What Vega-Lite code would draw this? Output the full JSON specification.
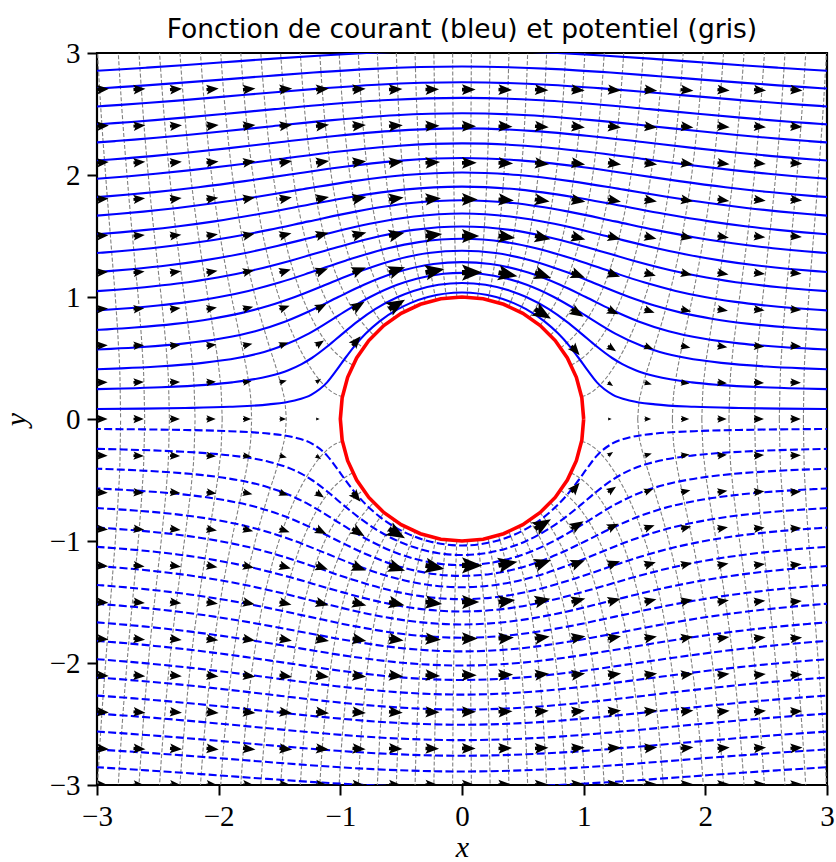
{
"$schema":"https://vega.github.io/schema/vega-lite/v6.json",
"width":730,"height":732,"autosize":"none",
"padding":{"left":97,"top":53,"right":9,"bottom":77},
"background":"white",
"title":{"text":"Fonction de courant (bleu) et potentiel (gris)","font":"DejaVu Sans, sans-serif","fontSize":26.5,"fontWeight":"normal","color":"black","anchor":"middle","frame":"group","offset":-25,"baseline":"alphabetic"},
"config":{"view":{"stroke":"black","strokeWidth":2.2},
"axis":{"domain":false,"grid":false,"tickColor":"black","tickWidth":2,"tickSize":10,"labelFont":"Liberation Serif, DejaVu Serif, serif","labelFontSize":29,"labelColor":"black","labelFlush":false,"labelOverlap":false,"labelBound":false,"titleFont":"Liberation Serif, DejaVu Serif, serif","titleFontStyle":"italic","titleFontWeight":"normal","titleFontSize":30,"titleColor":"black"}},
"encoding":{
"x":{"field":"x","type":"quantitative","scale":{"domain":[-3,3],"nice":false,"zero":false},"axis":{"values":[-3,-2,-1,0,1,2,3],"format":"d","labelPadding":7,"title":"x","titlePadding":1}},
"y":{"field":"y","type":"quantitative","scale":{"domain":[-3,3],"nice":false,"zero":false},"axis":{"values":[-3,-2,-1,0,1,2,3],"format":"d","labelPadding":7,"title":"y","titlePadding":18}}
},
"datasets":{
"ci":[{"o":0,"x":1,"y":0},{"o":1,"x":0.985,"y":0.174},{"o":2,"x":0.94,"y":0.342},{"o":3,"x":0.866,"y":0.5},{"o":4,"x":0.766,"y":0.643},{"o":5,"x":0.643,"y":0.766},{"o":6,"x":0.5,"y":0.866},{"o":7,"x":0.342,"y":0.94},{"o":8,"x":0.174,"y":0.985},{"o":9,"x":0,"y":1},{"o":10,"x":-0.174,"y":0.985},{"o":11,"x":-0.342,"y":0.94},{"o":12,"x":-0.5,"y":0.866},{"o":13,"x":-0.643,"y":0.766},{"o":14,"x":-0.766,"y":0.643},{"o":15,"x":-0.866,"y":0.5},{"o":16,"x":-0.94,"y":0.342},{"o":17,"x":-0.985,"y":0.174},{"o":18,"x":-1,"y":0},{"o":19,"x":-0.985,"y":-0.174},{"o":20,"x":-0.94,"y":-0.342},{"o":21,"x":-0.866,"y":-0.5},{"o":22,"x":-0.766,"y":-0.643},{"o":23,"x":-0.643,"y":-0.766},{"o":24,"x":-0.5,"y":-0.866},{"o":25,"x":-0.342,"y":-0.94},{"o":26,"x":-0.174,"y":-0.985},{"o":27,"x":0,"y":-1},{"o":28,"x":0.174,"y":-0.985},{"o":29,"x":0.342,"y":-0.94},{"o":30,"x":0.5,"y":-0.866},{"o":31,"x":0.643,"y":-0.766},{"o":32,"x":0.766,"y":-0.643},{"o":33,"x":0.866,"y":-0.5},{"o":34,"x":0.94,"y":-0.342},{"o":35,"x":0.985,"y":-0.174},{"o":36,"x":1,"y":0}],
"sp":[
{"c":0,"x":-3.034,"y":0.082},{"c":0,"x":-2.622,"y":0.085},{"c":0,"x":-2.276,"y":0.09},{"c":0,"x":-1.91,"y":0.1},{"c":0,"x":-1.587,"y":0.12},{"c":0,"x":-1.385,"y":0.15},{"c":0,"x":-1.237,"y":0.2},{"c":0,"x":-1.109,"y":0.3},{"c":0,"x":-1.031,"y":0.4},{"c":0,"x":-0.959,"y":0.5},{"c":0,"x":-0.882,"y":0.6},{"c":0,"x":-0.791,"y":0.7},{"c":0,"x":-0.678,"y":0.8},{"c":0,"x":-0.527,"y":0.9},{"c":0,"x":-0.425,"y":0.95},{"c":0,"x":-0.28,"y":1},{"c":0,"x":0,"y":1.037},{"c":0,"x":0.28,"y":1},{"c":0,"x":0.425,"y":0.95},{"c":0,"x":0.527,"y":0.9},{"c":0,"x":0.678,"y":0.8},{"c":0,"x":0.791,"y":0.7},{"c":0,"x":0.882,"y":0.6},{"c":0,"x":0.959,"y":0.5},{"c":0,"x":1.031,"y":0.4},{"c":0,"x":1.109,"y":0.3},{"c":0,"x":1.237,"y":0.2},{"c":0,"x":1.385,"y":0.15},{"c":0,"x":1.587,"y":0.12},{"c":0,"x":1.91,"y":0.1},{"c":0,"x":2.276,"y":0.09},{"c":0,"x":2.622,"y":0.085},{"c":0,"x":3.034,"y":0.082},
{"c":1,"x":-3,"y":0.245},{"c":1,"x":-2.782,"y":0.25},{"c":1,"x":-2.473,"y":0.26},{"c":1,"x":-2.106,"y":0.28},{"c":1,"x":-1.889,"y":0.3},{"c":1,"x":-1.59,"y":0.35},{"c":1,"x":-1.427,"y":0.4},{"c":1,"x":-1.318,"y":0.45},{"c":1,"x":-1.234,"y":0.5},{"c":1,"x":-1.1,"y":0.6},{"c":1,"x":-0.981,"y":0.7},{"c":1,"x":-0.857,"y":0.8},{"c":1,"x":-0.714,"y":0.9},{"c":1,"x":-0.528,"y":1},{"c":1,"x":-0.399,"y":1.05},{"c":1,"x":-0.193,"y":1.1},{"c":1,"x":0,"y":1.115},{"c":1,"x":0.193,"y":1.1},{"c":1,"x":0.399,"y":1.05},{"c":1,"x":0.528,"y":1},{"c":1,"x":0.714,"y":0.9},{"c":1,"x":0.857,"y":0.8},{"c":1,"x":0.981,"y":0.7},{"c":1,"x":1.1,"y":0.6},{"c":1,"x":1.234,"y":0.5},{"c":1,"x":1.318,"y":0.45},{"c":1,"x":1.427,"y":0.4},{"c":1,"x":1.59,"y":0.35},{"c":1,"x":1.889,"y":0.3},{"c":1,"x":2.106,"y":0.28},{"c":1,"x":2.473,"y":0.26},{"c":1,"x":2.782,"y":0.25},{"c":1,"x":3,"y":0.245},
{"c":2,"x":-3.023,"y":0.407},{"c":2,"x":-2.801,"y":0.415},{"c":2,"x":-2.501,"y":0.43},{"c":2,"x":-2.131,"y":0.46},{"c":2,"x":-1.846,"y":0.5},{"c":2,"x":-1.626,"y":0.55},{"c":2,"x":-1.475,"y":0.6},{"c":2,"x":-1.26,"y":0.7},{"c":2,"x":-1.092,"y":0.8},{"c":2,"x":-0.931,"y":0.9},{"c":2,"x":-0.755,"y":1},{"c":2,"x":-0.532,"y":1.1},{"c":2,"x":-0.373,"y":1.15},{"c":2,"x":-0.153,"y":1.19},{"c":2,"x":0,"y":1.198},{"c":2,"x":0.153,"y":1.19},{"c":2,"x":0.373,"y":1.15},{"c":2,"x":0.532,"y":1.1},{"c":2,"x":0.755,"y":1},{"c":2,"x":0.931,"y":0.9},{"c":2,"x":1.092,"y":0.8},{"c":2,"x":1.26,"y":0.7},{"c":2,"x":1.475,"y":0.6},{"c":2,"x":1.626,"y":0.55},{"c":2,"x":1.846,"y":0.5},{"c":2,"x":2.131,"y":0.46},{"c":2,"x":2.501,"y":0.43},{"c":2,"x":2.801,"y":0.415},{"c":2,"x":3.023,"y":0.407},
{"c":3,"x":-3.038,"y":0.568},{"c":3,"x":-2.885,"y":0.575},{"c":3,"x":-2.626,"y":0.59},{"c":3,"x":-2.276,"y":0.62},{"c":3,"x":-1.981,"y":0.66},{"c":3,"x":-1.699,"y":0.72},{"c":3,"x":-1.451,"y":0.8},{"c":3,"x":-1.22,"y":0.9},{"c":3,"x":-1.017,"y":1},{"c":3,"x":-0.806,"y":1.1},{"c":3,"x":-0.544,"y":1.2},{"c":3,"x":-0.235,"y":1.27},{"c":3,"x":0,"y":1.286},{"c":3,"x":0.235,"y":1.27},{"c":3,"x":0.544,"y":1.2},{"c":3,"x":0.806,"y":1.1},{"c":3,"x":1.017,"y":1},{"c":3,"x":1.22,"y":0.9},{"c":3,"x":1.451,"y":0.8},{"c":3,"x":1.699,"y":0.72},{"c":3,"x":1.981,"y":0.66},{"c":3,"x":2.276,"y":0.62},{"c":3,"x":2.626,"y":0.59},{"c":3,"x":2.885,"y":0.575},{"c":3,"x":3.038,"y":0.568},
{"c":4,"x":-3.009,"y":0.73},{"c":4,"x":-2.918,"y":0.735},{"c":4,"x":-2.69,"y":0.75},{"c":4,"x":-2.361,"y":0.78},{"c":4,"x":-2.065,"y":0.82},{"c":4,"x":-1.808,"y":0.87},{"c":4,"x":-1.582,"y":0.93},{"c":4,"x":-1.374,"y":1},{"c":4,"x":-1.121,"y":1.1},{"c":4,"x":-0.87,"y":1.2},{"c":4,"x":-0.567,"y":1.3},{"c":4,"x":-0.276,"y":1.36},{"c":4,"x":0,"y":1.379},{"c":4,"x":0.276,"y":1.36},{"c":4,"x":0.567,"y":1.3},{"c":4,"x":0.87,"y":1.2},{"c":4,"x":1.121,"y":1.1},{"c":4,"x":1.374,"y":1},{"c":4,"x":1.582,"y":0.93},{"c":4,"x":1.808,"y":0.87},{"c":4,"x":2.065,"y":0.82},{"c":4,"x":2.361,"y":0.78},{"c":4,"x":2.69,"y":0.75},{"c":4,"x":2.918,"y":0.735},{"c":4,"x":3.009,"y":0.73},
{"c":5,"x":-3.001,"y":0.89},{"c":5,"x":-2.922,"y":0.895},{"c":5,"x":-2.717,"y":0.91},{"c":5,"x":-2.499,"y":0.93},{"c":5,"x":-2.247,"y":0.96},{"c":5,"x":-1.995,"y":1},{"c":5,"x":-1.756,"y":1.05},{"c":5,"x":-1.495,"y":1.12},{"c":5,"x":-1.247,"y":1.2},{"c":5,"x":-0.952,"y":1.3},{"c":5,"x":-0.608,"y":1.4},{"c":5,"x":-0.354,"y":1.45},{"c":5,"x":0,"y":1.477},{"c":5,"x":0.354,"y":1.45},{"c":5,"x":0.608,"y":1.4},{"c":5,"x":0.952,"y":1.3},{"c":5,"x":1.247,"y":1.2},{"c":5,"x":1.495,"y":1.12},{"c":5,"x":1.756,"y":1.05},{"c":5,"x":1.995,"y":1},{"c":5,"x":2.247,"y":0.96},{"c":5,"x":2.499,"y":0.93},{"c":5,"x":2.717,"y":0.91},{"c":5,"x":2.922,"y":0.895},{"c":5,"x":3.001,"y":0.89},
{"c":6,"x":-3.004,"y":1.048},{"c":6,"x":-2.837,"y":1.06},{"c":6,"x":-2.608,"y":1.08},{"c":6,"x":-2.339,"y":1.11},{"c":6,"x":-2.009,"y":1.16},{"c":6,"x":-1.714,"y":1.22},{"c":6,"x":-1.402,"y":1.3},{"c":6,"x":-1.055,"y":1.4},{"c":6,"x":-0.671,"y":1.5},{"c":6,"x":-0.396,"y":1.55},{"c":6,"x":0,"y":1.578},{"c":6,"x":0.396,"y":1.55},{"c":6,"x":0.671,"y":1.5},{"c":6,"x":1.055,"y":1.4},{"c":6,"x":1.402,"y":1.3},{"c":6,"x":1.714,"y":1.22},{"c":6,"x":2.009,"y":1.16},{"c":6,"x":2.339,"y":1.11},{"c":6,"x":2.608,"y":1.08},{"c":6,"x":2.837,"y":1.06},{"c":6,"x":3.004,"y":1.048},
{"c":7,"x":-3,"y":1.205},{"c":7,"x":-2.906,"y":1.212},{"c":7,"x":-2.694,"y":1.23},{"c":7,"x":-2.411,"y":1.26},{"c":7,"x":-2.12,"y":1.3},{"c":7,"x":-1.834,"y":1.35},{"c":7,"x":-1.511,"y":1.42},{"c":7,"x":-1.186,"y":1.5},{"c":7,"x":-0.759,"y":1.6},{"c":7,"x":-0.394,"y":1.66},{"c":7,"x":0,"y":1.684},{"c":7,"x":0.394,"y":1.66},{"c":7,"x":0.759,"y":1.6},{"c":7,"x":1.186,"y":1.5},{"c":7,"x":1.511,"y":1.42},{"c":7,"x":1.834,"y":1.35},{"c":7,"x":2.12,"y":1.3},{"c":7,"x":2.411,"y":1.26},{"c":7,"x":2.694,"y":1.23},{"c":7,"x":2.906,"y":1.212},{"c":7,"x":3,"y":1.205},
{"c":8,"x":-3.006,"y":1.36},{"c":8,"x":-2.953,"y":1.364},{"c":8,"x":-2.817,"y":1.375},{"c":8,"x":-2.555,"y":1.4},{"c":8,"x":-2.225,"y":1.44},{"c":8,"x":-1.904,"y":1.49},{"c":8,"x":-1.587,"y":1.55},{"c":8,"x":-1.259,"y":1.62},{"c":8,"x":-0.875,"y":1.7},{"c":8,"x":-0.419,"y":1.77},{"c":8,"x":0,"y":1.793},{"c":8,"x":0.419,"y":1.77},{"c":8,"x":0.875,"y":1.7},{"c":8,"x":1.259,"y":1.62},{"c":8,"x":1.587,"y":1.55},{"c":8,"x":1.904,"y":1.49},{"c":8,"x":2.225,"y":1.44},{"c":8,"x":2.555,"y":1.4},{"c":8,"x":2.817,"y":1.375},{"c":8,"x":2.953,"y":1.364},{"c":8,"x":3.006,"y":1.36},
{"c":9,"x":-3.006,"y":1.514},{"c":9,"x":-2.808,"y":1.53},{"c":9,"x":-2.595,"y":1.55},{"c":9,"x":-2.328,"y":1.58},{"c":9,"x":-2.034,"y":1.62},{"c":9,"x":-1.669,"y":1.68},{"c":9,"x":-1.293,"y":1.75},{"c":9,"x":-0.91,"y":1.82},{"c":9,"x":-0.478,"y":1.88},{"c":9,"x":0,"y":1.905},{"c":9,"x":0.478,"y":1.88},{"c":9,"x":0.91,"y":1.82},{"c":9,"x":1.293,"y":1.75},{"c":9,"x":1.669,"y":1.68},{"c":9,"x":2.034,"y":1.62},{"c":9,"x":2.328,"y":1.58},{"c":9,"x":2.595,"y":1.55},{"c":9,"x":2.808,"y":1.53},{"c":9,"x":3.006,"y":1.514},
{"c":10,"x":-3.003,"y":1.667},{"c":10,"x":-2.839,"y":1.68},{"c":10,"x":-2.619,"y":1.7},{"c":10,"x":-2.339,"y":1.73},{"c":10,"x":-2.028,"y":1.77},{"c":10,"x":-1.694,"y":1.82},{"c":10,"x":-1.331,"y":1.88},{"c":10,"x":-0.89,"y":1.95},{"c":10,"x":-0.465,"y":2},{"c":10,"x":0,"y":2.021},{"c":10,"x":0.465,"y":2},{"c":10,"x":0.89,"y":1.95},{"c":10,"x":1.331,"y":1.88},{"c":10,"x":1.694,"y":1.82},{"c":10,"x":2.028,"y":1.77},{"c":10,"x":2.339,"y":1.73},{"c":10,"x":2.619,"y":1.7},{"c":10,"x":2.839,"y":1.68},{"c":10,"x":3.003,"y":1.667},
{"c":11,"x":-3.003,"y":1.819},{"c":11,"x":-2.918,"y":1.825},{"c":11,"x":-2.738,"y":1.84},{"c":11,"x":-2.526,"y":1.86},{"c":11,"x":-2.165,"y":1.9},{"c":11,"x":-1.785,"y":1.95},{"c":11,"x":-1.442,"y":2},{"c":11,"x":-0.95,"y":2.07},{"c":11,"x":-0.476,"y":2.12},{"c":11,"x":0,"y":2.139},{"c":11,"x":0.476,"y":2.12},{"c":11,"x":0.95,"y":2.07},{"c":11,"x":1.442,"y":2},{"c":11,"x":1.785,"y":1.95},{"c":11,"x":2.165,"y":1.9},{"c":11,"x":2.526,"y":1.86},{"c":11,"x":2.738,"y":1.84},{"c":11,"x":2.918,"y":1.825},{"c":11,"x":3.003,"y":1.819},
{"c":12,"x":-3.003,"y":1.969},{"c":12,"x":-2.922,"y":1.975},{"c":12,"x":-2.737,"y":1.99},{"c":12,"x":-2.517,"y":2.01},{"c":12,"x":-2.226,"y":2.04},{"c":12,"x":-1.887,"y":2.08},{"c":12,"x":-1.501,"y":2.13},{"c":12,"x":-1.031,"y":2.19},{"c":12,"x":-0.518,"y":2.24},{"c":12,"x":0,"y":2.259},{"c":12,"x":0.518,"y":2.24},{"c":12,"x":1.031,"y":2.19},{"c":12,"x":1.501,"y":2.13},{"c":12,"x":1.887,"y":2.08},{"c":12,"x":2.226,"y":2.04},{"c":12,"x":2.517,"y":2.01},{"c":12,"x":2.737,"y":1.99},{"c":12,"x":2.922,"y":1.975},{"c":12,"x":3.003,"y":1.969},
{"c":13,"x":-3.003,"y":2.119},{"c":13,"x":-2.887,"y":2.127},{"c":13,"x":-2.723,"y":2.14},{"c":13,"x":-2.549,"y":2.155},{"c":13,"x":-2.286,"y":2.18},{"c":13,"x":-1.913,"y":2.22},{"c":13,"x":-1.485,"y":2.27},{"c":13,"x":-1.044,"y":2.32},{"c":13,"x":-0.594,"y":2.36},{"c":13,"x":0,"y":2.382},{"c":13,"x":0.594,"y":2.36},{"c":13,"x":1.044,"y":2.32},{"c":13,"x":1.485,"y":2.27},{"c":13,"x":1.913,"y":2.22},{"c":13,"x":2.286,"y":2.18},{"c":13,"x":2.549,"y":2.155},{"c":13,"x":2.723,"y":2.14},{"c":13,"x":2.887,"y":2.127},{"c":13,"x":3.003,"y":2.119},
{"c":14,"x":-3.003,"y":2.267},{"c":14,"x":-2.85,"y":2.278},{"c":14,"x":-2.694,"y":2.29},{"c":14,"x":-2.514,"y":2.305},{"c":14,"x":-2.239,"y":2.33},{"c":14,"x":-1.937,"y":2.36},{"c":14,"x":-1.558,"y":2.4},{"c":14,"x":-1.066,"y":2.45},{"c":14,"x":-0.547,"y":2.49},{"c":14,"x":0,"y":2.506},{"c":14,"x":0.547,"y":2.49},{"c":14,"x":1.066,"y":2.45},{"c":14,"x":1.558,"y":2.4},{"c":14,"x":1.937,"y":2.36},{"c":14,"x":2.239,"y":2.33},{"c":14,"x":2.514,"y":2.305},{"c":14,"x":2.694,"y":2.29},{"c":14,"x":2.85,"y":2.278},{"c":14,"x":3.003,"y":2.267},
{"c":15,"x":-3,"y":2.415},{"c":15,"x":-2.855,"y":2.425},{"c":15,"x":-2.718,"y":2.435},{"c":15,"x":-2.526,"y":2.45},{"c":15,"x":-2.289,"y":2.47},{"c":15,"x":-1.959,"y":2.5},{"c":15,"x":-1.54,"y":2.54},{"c":15,"x":-1.101,"y":2.58},{"c":15,"x":-0.607,"y":2.615},{"c":15,"x":0,"y":2.632},{"c":15,"x":0.607,"y":2.615},{"c":15,"x":1.101,"y":2.58},{"c":15,"x":1.54,"y":2.54},{"c":15,"x":1.959,"y":2.5},{"c":15,"x":2.289,"y":2.47},{"c":15,"x":2.526,"y":2.45},{"c":15,"x":2.718,"y":2.435},{"c":15,"x":2.855,"y":2.425},{"c":15,"x":3,"y":2.415},
{"c":16,"x":-3.001,"y":2.562},{"c":16,"x":-2.806,"y":2.575},{"c":16,"x":-2.597,"y":2.59},{"c":16,"x":-2.338,"y":2.61},{"c":16,"x":-1.979,"y":2.64},{"c":16,"x":-1.633,"y":2.67},{"c":16,"x":-1.152,"y":2.71},{"c":16,"x":-0.701,"y":2.74},{"c":16,"x":0,"y":2.76},{"c":16,"x":0.701,"y":2.74},{"c":16,"x":1.152,"y":2.71},{"c":16,"x":1.633,"y":2.67},{"c":16,"x":1.979,"y":2.64},{"c":16,"x":2.338,"y":2.61},{"c":16,"x":2.597,"y":2.59},{"c":16,"x":2.806,"y":2.575},{"c":16,"x":3.001,"y":2.562},
{"c":17,"x":-3.009,"y":2.708},{"c":17,"x":-2.819,"y":2.72},{"c":17,"x":-2.597,"y":2.735},{"c":17,"x":-2.322,"y":2.755},{"c":17,"x":-1.997,"y":2.78},{"c":17,"x":-1.618,"y":2.81},{"c":17,"x":-1.22,"y":2.84},{"c":17,"x":-0.73,"y":2.87},{"c":17,"x":0,"y":2.889},{"c":17,"x":0.73,"y":2.87},{"c":17,"x":1.22,"y":2.84},{"c":17,"x":1.618,"y":2.81},{"c":17,"x":1.997,"y":2.78},{"c":17,"x":2.322,"y":2.755},{"c":17,"x":2.597,"y":2.735},{"c":17,"x":2.819,"y":2.72},{"c":17,"x":3.009,"y":2.708},
{"c":18,"x":-3.009,"y":2.854},{"c":18,"x":-2.825,"y":2.865},{"c":18,"x":-2.59,"y":2.88},{"c":18,"x":-2.296,"y":2.9},{"c":18,"x":-2.016,"y":2.92},{"c":18,"x":-1.6,"y":2.95},{"c":18,"x":-1.152,"y":2.98},{"c":18,"x":-0.785,"y":3},{"c":18,"x":0,"y":3.02},{"c":18,"x":0.785,"y":3},{"c":18,"x":1.152,"y":2.98},{"c":18,"x":1.6,"y":2.95},{"c":18,"x":2.016,"y":2.92},{"c":18,"x":2.296,"y":2.9},{"c":18,"x":2.59,"y":2.88},{"c":18,"x":2.825,"y":2.865},{"c":18,"x":3.009,"y":2.854}
],
"sn":[
{"c":0,"x":-3.034,"y":-0.082},{"c":0,"x":-2.622,"y":-0.085},{"c":0,"x":-2.276,"y":-0.09},{"c":0,"x":-1.91,"y":-0.1},{"c":0,"x":-1.587,"y":-0.12},{"c":0,"x":-1.385,"y":-0.15},{"c":0,"x":-1.237,"y":-0.2},{"c":0,"x":-1.109,"y":-0.3},{"c":0,"x":-1.031,"y":-0.4},{"c":0,"x":-0.959,"y":-0.5},{"c":0,"x":-0.882,"y":-0.6},{"c":0,"x":-0.791,"y":-0.7},{"c":0,"x":-0.678,"y":-0.8},{"c":0,"x":-0.527,"y":-0.9},{"c":0,"x":-0.425,"y":-0.95},{"c":0,"x":-0.28,"y":-1},{"c":0,"x":0,"y":-1.037},{"c":0,"x":0.28,"y":-1},{"c":0,"x":0.425,"y":-0.95},{"c":0,"x":0.527,"y":-0.9},{"c":0,"x":0.678,"y":-0.8},{"c":0,"x":0.791,"y":-0.7},{"c":0,"x":0.882,"y":-0.6},{"c":0,"x":0.959,"y":-0.5},{"c":0,"x":1.031,"y":-0.4},{"c":0,"x":1.109,"y":-0.3},{"c":0,"x":1.237,"y":-0.2},{"c":0,"x":1.385,"y":-0.15},{"c":0,"x":1.587,"y":-0.12},{"c":0,"x":1.91,"y":-0.1},{"c":0,"x":2.276,"y":-0.09},{"c":0,"x":2.622,"y":-0.085},{"c":0,"x":3.034,"y":-0.082},
{"c":1,"x":-3,"y":-0.245},{"c":1,"x":-2.782,"y":-0.25},{"c":1,"x":-2.473,"y":-0.26},{"c":1,"x":-2.106,"y":-0.28},{"c":1,"x":-1.889,"y":-0.3},{"c":1,"x":-1.59,"y":-0.35},{"c":1,"x":-1.427,"y":-0.4},{"c":1,"x":-1.318,"y":-0.45},{"c":1,"x":-1.234,"y":-0.5},{"c":1,"x":-1.1,"y":-0.6},{"c":1,"x":-0.981,"y":-0.7},{"c":1,"x":-0.857,"y":-0.8},{"c":1,"x":-0.714,"y":-0.9},{"c":1,"x":-0.528,"y":-1},{"c":1,"x":-0.399,"y":-1.05},{"c":1,"x":-0.193,"y":-1.1},{"c":1,"x":0,"y":-1.115},{"c":1,"x":0.193,"y":-1.1},{"c":1,"x":0.399,"y":-1.05},{"c":1,"x":0.528,"y":-1},{"c":1,"x":0.714,"y":-0.9},{"c":1,"x":0.857,"y":-0.8},{"c":1,"x":0.981,"y":-0.7},{"c":1,"x":1.1,"y":-0.6},{"c":1,"x":1.234,"y":-0.5},{"c":1,"x":1.318,"y":-0.45},{"c":1,"x":1.427,"y":-0.4},{"c":1,"x":1.59,"y":-0.35},{"c":1,"x":1.889,"y":-0.3},{"c":1,"x":2.106,"y":-0.28},{"c":1,"x":2.473,"y":-0.26},{"c":1,"x":2.782,"y":-0.25},{"c":1,"x":3,"y":-0.245},
{"c":2,"x":-3.023,"y":-0.407},{"c":2,"x":-2.801,"y":-0.415},{"c":2,"x":-2.501,"y":-0.43},{"c":2,"x":-2.131,"y":-0.46},{"c":2,"x":-1.846,"y":-0.5},{"c":2,"x":-1.626,"y":-0.55},{"c":2,"x":-1.475,"y":-0.6},{"c":2,"x":-1.26,"y":-0.7},{"c":2,"x":-1.092,"y":-0.8},{"c":2,"x":-0.931,"y":-0.9},{"c":2,"x":-0.755,"y":-1},{"c":2,"x":-0.532,"y":-1.1},{"c":2,"x":-0.373,"y":-1.15},{"c":2,"x":-0.153,"y":-1.19},{"c":2,"x":0,"y":-1.198},{"c":2,"x":0.153,"y":-1.19},{"c":2,"x":0.373,"y":-1.15},{"c":2,"x":0.532,"y":-1.1},{"c":2,"x":0.755,"y":-1},{"c":2,"x":0.931,"y":-0.9},{"c":2,"x":1.092,"y":-0.8},{"c":2,"x":1.26,"y":-0.7},{"c":2,"x":1.475,"y":-0.6},{"c":2,"x":1.626,"y":-0.55},{"c":2,"x":1.846,"y":-0.5},{"c":2,"x":2.131,"y":-0.46},{"c":2,"x":2.501,"y":-0.43},{"c":2,"x":2.801,"y":-0.415},{"c":2,"x":3.023,"y":-0.407},
{"c":3,"x":-3.038,"y":-0.568},{"c":3,"x":-2.885,"y":-0.575},{"c":3,"x":-2.626,"y":-0.59},{"c":3,"x":-2.276,"y":-0.62},{"c":3,"x":-1.981,"y":-0.66},{"c":3,"x":-1.699,"y":-0.72},{"c":3,"x":-1.451,"y":-0.8},{"c":3,"x":-1.22,"y":-0.9},{"c":3,"x":-1.017,"y":-1},{"c":3,"x":-0.806,"y":-1.1},{"c":3,"x":-0.544,"y":-1.2},{"c":3,"x":-0.235,"y":-1.27},{"c":3,"x":0,"y":-1.286},{"c":3,"x":0.235,"y":-1.27},{"c":3,"x":0.544,"y":-1.2},{"c":3,"x":0.806,"y":-1.1},{"c":3,"x":1.017,"y":-1},{"c":3,"x":1.22,"y":-0.9},{"c":3,"x":1.451,"y":-0.8},{"c":3,"x":1.699,"y":-0.72},{"c":3,"x":1.981,"y":-0.66},{"c":3,"x":2.276,"y":-0.62},{"c":3,"x":2.626,"y":-0.59},{"c":3,"x":2.885,"y":-0.575},{"c":3,"x":3.038,"y":-0.568},
{"c":4,"x":-3.009,"y":-0.73},{"c":4,"x":-2.918,"y":-0.735},{"c":4,"x":-2.69,"y":-0.75},{"c":4,"x":-2.361,"y":-0.78},{"c":4,"x":-2.065,"y":-0.82},{"c":4,"x":-1.808,"y":-0.87},{"c":4,"x":-1.582,"y":-0.93},{"c":4,"x":-1.374,"y":-1},{"c":4,"x":-1.121,"y":-1.1},{"c":4,"x":-0.87,"y":-1.2},{"c":4,"x":-0.567,"y":-1.3},{"c":4,"x":-0.276,"y":-1.36},{"c":4,"x":0,"y":-1.379},{"c":4,"x":0.276,"y":-1.36},{"c":4,"x":0.567,"y":-1.3},{"c":4,"x":0.87,"y":-1.2},{"c":4,"x":1.121,"y":-1.1},{"c":4,"x":1.374,"y":-1},{"c":4,"x":1.582,"y":-0.93},{"c":4,"x":1.808,"y":-0.87},{"c":4,"x":2.065,"y":-0.82},{"c":4,"x":2.361,"y":-0.78},{"c":4,"x":2.69,"y":-0.75},{"c":4,"x":2.918,"y":-0.735},{"c":4,"x":3.009,"y":-0.73},
{"c":5,"x":-3.001,"y":-0.89},{"c":5,"x":-2.922,"y":-0.895},{"c":5,"x":-2.717,"y":-0.91},{"c":5,"x":-2.499,"y":-0.93},{"c":5,"x":-2.247,"y":-0.96},{"c":5,"x":-1.995,"y":-1},{"c":5,"x":-1.756,"y":-1.05},{"c":5,"x":-1.495,"y":-1.12},{"c":5,"x":-1.247,"y":-1.2},{"c":5,"x":-0.952,"y":-1.3},{"c":5,"x":-0.608,"y":-1.4},{"c":5,"x":-0.354,"y":-1.45},{"c":5,"x":0,"y":-1.477},{"c":5,"x":0.354,"y":-1.45},{"c":5,"x":0.608,"y":-1.4},{"c":5,"x":0.952,"y":-1.3},{"c":5,"x":1.247,"y":-1.2},{"c":5,"x":1.495,"y":-1.12},{"c":5,"x":1.756,"y":-1.05},{"c":5,"x":1.995,"y":-1},{"c":5,"x":2.247,"y":-0.96},{"c":5,"x":2.499,"y":-0.93},{"c":5,"x":2.717,"y":-0.91},{"c":5,"x":2.922,"y":-0.895},{"c":5,"x":3.001,"y":-0.89},
{"c":6,"x":-3.004,"y":-1.048},{"c":6,"x":-2.837,"y":-1.06},{"c":6,"x":-2.608,"y":-1.08},{"c":6,"x":-2.339,"y":-1.11},{"c":6,"x":-2.009,"y":-1.16},{"c":6,"x":-1.714,"y":-1.22},{"c":6,"x":-1.402,"y":-1.3},{"c":6,"x":-1.055,"y":-1.4},{"c":6,"x":-0.671,"y":-1.5},{"c":6,"x":-0.396,"y":-1.55},{"c":6,"x":0,"y":-1.578},{"c":6,"x":0.396,"y":-1.55},{"c":6,"x":0.671,"y":-1.5},{"c":6,"x":1.055,"y":-1.4},{"c":6,"x":1.402,"y":-1.3},{"c":6,"x":1.714,"y":-1.22},{"c":6,"x":2.009,"y":-1.16},{"c":6,"x":2.339,"y":-1.11},{"c":6,"x":2.608,"y":-1.08},{"c":6,"x":2.837,"y":-1.06},{"c":6,"x":3.004,"y":-1.048},
{"c":7,"x":-3,"y":-1.205},{"c":7,"x":-2.906,"y":-1.212},{"c":7,"x":-2.694,"y":-1.23},{"c":7,"x":-2.411,"y":-1.26},{"c":7,"x":-2.12,"y":-1.3},{"c":7,"x":-1.834,"y":-1.35},{"c":7,"x":-1.511,"y":-1.42},{"c":7,"x":-1.186,"y":-1.5},{"c":7,"x":-0.759,"y":-1.6},{"c":7,"x":-0.394,"y":-1.66},{"c":7,"x":0,"y":-1.684},{"c":7,"x":0.394,"y":-1.66},{"c":7,"x":0.759,"y":-1.6},{"c":7,"x":1.186,"y":-1.5},{"c":7,"x":1.511,"y":-1.42},{"c":7,"x":1.834,"y":-1.35},{"c":7,"x":2.12,"y":-1.3},{"c":7,"x":2.411,"y":-1.26},{"c":7,"x":2.694,"y":-1.23},{"c":7,"x":2.906,"y":-1.212},{"c":7,"x":3,"y":-1.205},
{"c":8,"x":-3.006,"y":-1.36},{"c":8,"x":-2.953,"y":-1.364},{"c":8,"x":-2.817,"y":-1.375},{"c":8,"x":-2.555,"y":-1.4},{"c":8,"x":-2.225,"y":-1.44},{"c":8,"x":-1.904,"y":-1.49},{"c":8,"x":-1.587,"y":-1.55},{"c":8,"x":-1.259,"y":-1.62},{"c":8,"x":-0.875,"y":-1.7},{"c":8,"x":-0.419,"y":-1.77},{"c":8,"x":0,"y":-1.793},{"c":8,"x":0.419,"y":-1.77},{"c":8,"x":0.875,"y":-1.7},{"c":8,"x":1.259,"y":-1.62},{"c":8,"x":1.587,"y":-1.55},{"c":8,"x":1.904,"y":-1.49},{"c":8,"x":2.225,"y":-1.44},{"c":8,"x":2.555,"y":-1.4},{"c":8,"x":2.817,"y":-1.375},{"c":8,"x":2.953,"y":-1.364},{"c":8,"x":3.006,"y":-1.36},
{"c":9,"x":-3.006,"y":-1.514},{"c":9,"x":-2.808,"y":-1.53},{"c":9,"x":-2.595,"y":-1.55},{"c":9,"x":-2.328,"y":-1.58},{"c":9,"x":-2.034,"y":-1.62},{"c":9,"x":-1.669,"y":-1.68},{"c":9,"x":-1.293,"y":-1.75},{"c":9,"x":-0.91,"y":-1.82},{"c":9,"x":-0.478,"y":-1.88},{"c":9,"x":0,"y":-1.905},{"c":9,"x":0.478,"y":-1.88},{"c":9,"x":0.91,"y":-1.82},{"c":9,"x":1.293,"y":-1.75},{"c":9,"x":1.669,"y":-1.68},{"c":9,"x":2.034,"y":-1.62},{"c":9,"x":2.328,"y":-1.58},{"c":9,"x":2.595,"y":-1.55},{"c":9,"x":2.808,"y":-1.53},{"c":9,"x":3.006,"y":-1.514},
{"c":10,"x":-3.003,"y":-1.667},{"c":10,"x":-2.839,"y":-1.68},{"c":10,"x":-2.619,"y":-1.7},{"c":10,"x":-2.339,"y":-1.73},{"c":10,"x":-2.028,"y":-1.77},{"c":10,"x":-1.694,"y":-1.82},{"c":10,"x":-1.331,"y":-1.88},{"c":10,"x":-0.89,"y":-1.95},{"c":10,"x":-0.465,"y":-2},{"c":10,"x":0,"y":-2.021},{"c":10,"x":0.465,"y":-2},{"c":10,"x":0.89,"y":-1.95},{"c":10,"x":1.331,"y":-1.88},{"c":10,"x":1.694,"y":-1.82},{"c":10,"x":2.028,"y":-1.77},{"c":10,"x":2.339,"y":-1.73},{"c":10,"x":2.619,"y":-1.7},{"c":10,"x":2.839,"y":-1.68},{"c":10,"x":3.003,"y":-1.667},
{"c":11,"x":-3.003,"y":-1.819},{"c":11,"x":-2.918,"y":-1.825},{"c":11,"x":-2.738,"y":-1.84},{"c":11,"x":-2.526,"y":-1.86},{"c":11,"x":-2.165,"y":-1.9},{"c":11,"x":-1.785,"y":-1.95},{"c":11,"x":-1.442,"y":-2},{"c":11,"x":-0.95,"y":-2.07},{"c":11,"x":-0.476,"y":-2.12},{"c":11,"x":0,"y":-2.139},{"c":11,"x":0.476,"y":-2.12},{"c":11,"x":0.95,"y":-2.07},{"c":11,"x":1.442,"y":-2},{"c":11,"x":1.785,"y":-1.95},{"c":11,"x":2.165,"y":-1.9},{"c":11,"x":2.526,"y":-1.86},{"c":11,"x":2.738,"y":-1.84},{"c":11,"x":2.918,"y":-1.825},{"c":11,"x":3.003,"y":-1.819},
{"c":12,"x":-3.003,"y":-1.969},{"c":12,"x":-2.922,"y":-1.975},{"c":12,"x":-2.737,"y":-1.99},{"c":12,"x":-2.517,"y":-2.01},{"c":12,"x":-2.226,"y":-2.04},{"c":12,"x":-1.887,"y":-2.08},{"c":12,"x":-1.501,"y":-2.13},{"c":12,"x":-1.031,"y":-2.19},{"c":12,"x":-0.518,"y":-2.24},{"c":12,"x":0,"y":-2.259},{"c":12,"x":0.518,"y":-2.24},{"c":12,"x":1.031,"y":-2.19},{"c":12,"x":1.501,"y":-2.13},{"c":12,"x":1.887,"y":-2.08},{"c":12,"x":2.226,"y":-2.04},{"c":12,"x":2.517,"y":-2.01},{"c":12,"x":2.737,"y":-1.99},{"c":12,"x":2.922,"y":-1.975},{"c":12,"x":3.003,"y":-1.969},
{"c":13,"x":-3.003,"y":-2.119},{"c":13,"x":-2.887,"y":-2.127},{"c":13,"x":-2.723,"y":-2.14},{"c":13,"x":-2.549,"y":-2.155},{"c":13,"x":-2.286,"y":-2.18},{"c":13,"x":-1.913,"y":-2.22},{"c":13,"x":-1.485,"y":-2.27},{"c":13,"x":-1.044,"y":-2.32},{"c":13,"x":-0.594,"y":-2.36},{"c":13,"x":0,"y":-2.382},{"c":13,"x":0.594,"y":-2.36},{"c":13,"x":1.044,"y":-2.32},{"c":13,"x":1.485,"y":-2.27},{"c":13,"x":1.913,"y":-2.22},{"c":13,"x":2.286,"y":-2.18},{"c":13,"x":2.549,"y":-2.155},{"c":13,"x":2.723,"y":-2.14},{"c":13,"x":2.887,"y":-2.127},{"c":13,"x":3.003,"y":-2.119},
{"c":14,"x":-3.003,"y":-2.267},{"c":14,"x":-2.85,"y":-2.278},{"c":14,"x":-2.694,"y":-2.29},{"c":14,"x":-2.514,"y":-2.305},{"c":14,"x":-2.239,"y":-2.33},{"c":14,"x":-1.937,"y":-2.36},{"c":14,"x":-1.558,"y":-2.4},{"c":14,"x":-1.066,"y":-2.45},{"c":14,"x":-0.547,"y":-2.49},{"c":14,"x":0,"y":-2.506},{"c":14,"x":0.547,"y":-2.49},{"c":14,"x":1.066,"y":-2.45},{"c":14,"x":1.558,"y":-2.4},{"c":14,"x":1.937,"y":-2.36},{"c":14,"x":2.239,"y":-2.33},{"c":14,"x":2.514,"y":-2.305},{"c":14,"x":2.694,"y":-2.29},{"c":14,"x":2.85,"y":-2.278},{"c":14,"x":3.003,"y":-2.267},
{"c":15,"x":-3,"y":-2.415},{"c":15,"x":-2.855,"y":-2.425},{"c":15,"x":-2.718,"y":-2.435},{"c":15,"x":-2.526,"y":-2.45},{"c":15,"x":-2.289,"y":-2.47},{"c":15,"x":-1.959,"y":-2.5},{"c":15,"x":-1.54,"y":-2.54},{"c":15,"x":-1.101,"y":-2.58},{"c":15,"x":-0.607,"y":-2.615},{"c":15,"x":0,"y":-2.632},{"c":15,"x":0.607,"y":-2.615},{"c":15,"x":1.101,"y":-2.58},{"c":15,"x":1.54,"y":-2.54},{"c":15,"x":1.959,"y":-2.5},{"c":15,"x":2.289,"y":-2.47},{"c":15,"x":2.526,"y":-2.45},{"c":15,"x":2.718,"y":-2.435},{"c":15,"x":2.855,"y":-2.425},{"c":15,"x":3,"y":-2.415},
{"c":16,"x":-3.001,"y":-2.562},{"c":16,"x":-2.806,"y":-2.575},{"c":16,"x":-2.597,"y":-2.59},{"c":16,"x":-2.338,"y":-2.61},{"c":16,"x":-1.979,"y":-2.64},{"c":16,"x":-1.633,"y":-2.67},{"c":16,"x":-1.152,"y":-2.71},{"c":16,"x":-0.701,"y":-2.74},{"c":16,"x":0,"y":-2.76},{"c":16,"x":0.701,"y":-2.74},{"c":16,"x":1.152,"y":-2.71},{"c":16,"x":1.633,"y":-2.67},{"c":16,"x":1.979,"y":-2.64},{"c":16,"x":2.338,"y":-2.61},{"c":16,"x":2.597,"y":-2.59},{"c":16,"x":2.806,"y":-2.575},{"c":16,"x":3.001,"y":-2.562},
{"c":17,"x":-3.009,"y":-2.708},{"c":17,"x":-2.819,"y":-2.72},{"c":17,"x":-2.597,"y":-2.735},{"c":17,"x":-2.322,"y":-2.755},{"c":17,"x":-1.997,"y":-2.78},{"c":17,"x":-1.618,"y":-2.81},{"c":17,"x":-1.22,"y":-2.84},{"c":17,"x":-0.73,"y":-2.87},{"c":17,"x":0,"y":-2.889},{"c":17,"x":0.73,"y":-2.87},{"c":17,"x":1.22,"y":-2.84},{"c":17,"x":1.618,"y":-2.81},{"c":17,"x":1.997,"y":-2.78},{"c":17,"x":2.322,"y":-2.755},{"c":17,"x":2.597,"y":-2.735},{"c":17,"x":2.819,"y":-2.72},{"c":17,"x":3.009,"y":-2.708},
{"c":18,"x":-3.009,"y":-2.854},{"c":18,"x":-2.825,"y":-2.865},{"c":18,"x":-2.59,"y":-2.88},{"c":18,"x":-2.296,"y":-2.9},{"c":18,"x":-2.016,"y":-2.92},{"c":18,"x":-1.6,"y":-2.95},{"c":18,"x":-1.152,"y":-2.98},{"c":18,"x":-0.785,"y":-3},{"c":18,"x":0,"y":-3.02},{"c":18,"x":0.785,"y":-3},{"c":18,"x":1.152,"y":-2.98},{"c":18,"x":1.6,"y":-2.95},{"c":18,"x":2.016,"y":-2.92},{"c":18,"x":2.296,"y":-2.9},{"c":18,"x":2.59,"y":-2.88},{"c":18,"x":2.825,"y":-2.865},{"c":18,"x":3.009,"y":-2.854}
],
"eq":[
{"c":4,"x":0.043,"y":0.999},{"c":4,"x":0.047,"y":1.105},{"c":4,"x":0.051,"y":1.224},{"c":4,"x":0.06,"y":1.526},{"c":4,"x":0.068,"y":1.999},{"c":4,"x":0.073,"y":2.379},{"c":4,"x":0.077,"y":2.999},{"c":4,"x":0.079,"y":3.39},
{"c":5,"x":0.043,"y":-0.999},{"c":5,"x":0.047,"y":-1.105},{"c":5,"x":0.051,"y":-1.224},{"c":5,"x":0.06,"y":-1.526},{"c":5,"x":0.068,"y":-1.999},{"c":5,"x":0.073,"y":-2.379},{"c":5,"x":0.077,"y":-2.999},{"c":5,"x":0.079,"y":-3.39},
{"c":6,"x":-0.043,"y":0.999},{"c":6,"x":-0.047,"y":1.105},{"c":6,"x":-0.051,"y":1.224},{"c":6,"x":-0.06,"y":1.526},{"c":6,"x":-0.068,"y":1.999},{"c":6,"x":-0.073,"y":2.379},{"c":6,"x":-0.077,"y":2.999},{"c":6,"x":-0.079,"y":3.39},
{"c":7,"x":-0.043,"y":-0.999},{"c":7,"x":-0.047,"y":-1.105},{"c":7,"x":-0.051,"y":-1.224},{"c":7,"x":-0.06,"y":-1.526},{"c":7,"x":-0.068,"y":-1.999},{"c":7,"x":-0.073,"y":-2.379},{"c":7,"x":-0.077,"y":-2.999},{"c":7,"x":-0.079,"y":-3.39},
{"c":8,"x":0.128,"y":0.992},{"c":8,"x":0.141,"y":1.097},{"c":8,"x":0.154,"y":1.215},{"c":8,"x":0.18,"y":1.517},{"c":8,"x":0.205,"y":1.99},{"c":8,"x":0.218,"y":2.371},{"c":8,"x":0.231,"y":2.991},{"c":8,"x":0.236,"y":3.383},
{"c":9,"x":0.128,"y":-0.992},{"c":9,"x":0.141,"y":-1.097},{"c":9,"x":0.154,"y":-1.215},{"c":9,"x":0.18,"y":-1.517},{"c":9,"x":0.205,"y":-1.99},{"c":9,"x":0.218,"y":-2.371},{"c":9,"x":0.231,"y":-2.991},{"c":9,"x":0.236,"y":-3.383},
{"c":10,"x":-0.128,"y":0.992},{"c":10,"x":-0.141,"y":1.097},{"c":10,"x":-0.154,"y":1.215},{"c":10,"x":-0.18,"y":1.517},{"c":10,"x":-0.205,"y":1.99},{"c":10,"x":-0.218,"y":2.371},{"c":10,"x":-0.231,"y":2.991},{"c":10,"x":-0.236,"y":3.383},
{"c":11,"x":-0.128,"y":-0.992},{"c":11,"x":-0.141,"y":-1.097},{"c":11,"x":-0.154,"y":-1.215},{"c":11,"x":-0.18,"y":-1.517},{"c":11,"x":-0.205,"y":-1.99},{"c":11,"x":-0.218,"y":-2.371},{"c":11,"x":-0.231,"y":-2.991},{"c":11,"x":-0.236,"y":-3.383},
{"c":12,"x":0.214,"y":0.977},{"c":12,"x":0.235,"y":1.08},{"c":12,"x":0.256,"y":1.198},{"c":12,"x":0.299,"y":1.498},{"c":12,"x":0.342,"y":1.971},{"c":12,"x":0.363,"y":2.353},{"c":12,"x":0.385,"y":2.975},{"c":12,"x":0.393,"y":3.368},
{"c":13,"x":0.214,"y":-0.977},{"c":13,"x":0.235,"y":-1.08},{"c":13,"x":0.256,"y":-1.198},{"c":13,"x":0.299,"y":-1.498},{"c":13,"x":0.342,"y":-1.971},{"c":13,"x":0.363,"y":-2.353},{"c":13,"x":0.385,"y":-2.975},{"c":13,"x":0.393,"y":-3.368},
{"c":14,"x":-0.214,"y":0.977},{"c":14,"x":-0.235,"y":1.08},{"c":14,"x":-0.256,"y":1.198},{"c":14,"x":-0.299,"y":1.498},{"c":14,"x":-0.342,"y":1.971},{"c":14,"x":-0.363,"y":2.353},{"c":14,"x":-0.385,"y":2.975},{"c":14,"x":-0.393,"y":3.368},
{"c":15,"x":-0.214,"y":-0.977},{"c":15,"x":-0.235,"y":-1.08},{"c":15,"x":-0.256,"y":-1.198},{"c":15,"x":-0.299,"y":-1.498},{"c":15,"x":-0.342,"y":-1.971},{"c":15,"x":-0.363,"y":-2.353},{"c":15,"x":-0.385,"y":-2.975},{"c":15,"x":-0.393,"y":-3.368},
{"c":16,"x":0.299,"y":0.954},{"c":16,"x":0.329,"y":1.055},{"c":16,"x":0.359,"y":1.171},{"c":16,"x":0.389,"y":1.306},{"c":16,"x":0.419,"y":1.469},{"c":16,"x":0.479,"y":1.942},{"c":16,"x":0.509,"y":2.326},{"c":16,"x":0.538,"y":2.951},{"c":16,"x":0.55,"y":3.346},
{"c":17,"x":0.299,"y":-0.954},{"c":17,"x":0.329,"y":-1.055},{"c":17,"x":0.359,"y":-1.171},{"c":17,"x":0.389,"y":-1.306},{"c":17,"x":0.419,"y":-1.469},{"c":17,"x":0.479,"y":-1.942},{"c":17,"x":0.509,"y":-2.326},{"c":17,"x":0.538,"y":-2.951},{"c":17,"x":0.55,"y":-3.346},
{"c":18,"x":-0.299,"y":0.954},{"c":18,"x":-0.329,"y":1.055},{"c":18,"x":-0.359,"y":1.171},{"c":18,"x":-0.389,"y":1.306},{"c":18,"x":-0.419,"y":1.469},{"c":18,"x":-0.479,"y":1.942},{"c":18,"x":-0.509,"y":2.326},{"c":18,"x":-0.538,"y":2.951},{"c":18,"x":-0.55,"y":3.346},
{"c":19,"x":-0.299,"y":-0.954},{"c":19,"x":-0.329,"y":-1.055},{"c":19,"x":-0.359,"y":-1.171},{"c":19,"x":-0.389,"y":-1.306},{"c":19,"x":-0.419,"y":-1.469},{"c":19,"x":-0.479,"y":-1.942},{"c":19,"x":-0.509,"y":-2.326},{"c":19,"x":-0.538,"y":-2.951},{"c":19,"x":-0.55,"y":-3.346},
{"c":20,"x":0.385,"y":0.923},{"c":20,"x":0.423,"y":1.021},{"c":20,"x":0.462,"y":1.135},{"c":20,"x":0.5,"y":1.268},{"c":20,"x":0.538,"y":1.43},{"c":20,"x":0.577,"y":1.633},{"c":20,"x":0.615,"y":1.903},{"c":20,"x":0.654,"y":2.289},{"c":20,"x":0.692,"y":2.919},{"c":20,"x":0.708,"y":3.317},
{"c":21,"x":0.385,"y":-0.923},{"c":21,"x":0.423,"y":-1.021},{"c":21,"x":0.462,"y":-1.135},{"c":21,"x":0.5,"y":-1.268},{"c":21,"x":0.538,"y":-1.43},{"c":21,"x":0.577,"y":-1.633},{"c":21,"x":0.615,"y":-1.903},{"c":21,"x":0.654,"y":-2.289},{"c":21,"x":0.692,"y":-2.919},{"c":21,"x":0.708,"y":-3.317},
{"c":22,"x":-0.385,"y":0.923},{"c":22,"x":-0.423,"y":1.021},{"c":22,"x":-0.462,"y":1.135},{"c":22,"x":-0.5,"y":1.268},{"c":22,"x":-0.538,"y":1.43},{"c":22,"x":-0.577,"y":1.633},{"c":22,"x":-0.615,"y":1.903},{"c":22,"x":-0.654,"y":2.289},{"c":22,"x":-0.692,"y":2.919},{"c":22,"x":-0.708,"y":3.317},
{"c":23,"x":-0.385,"y":-0.923},{"c":23,"x":-0.423,"y":-1.021},{"c":23,"x":-0.462,"y":-1.135},{"c":23,"x":-0.5,"y":-1.268},{"c":23,"x":-0.538,"y":-1.43},{"c":23,"x":-0.577,"y":-1.633},{"c":23,"x":-0.615,"y":-1.903},{"c":23,"x":-0.654,"y":-2.289},{"c":23,"x":-0.692,"y":-2.919},{"c":23,"x":-0.708,"y":-3.317},
{"c":24,"x":0.47,"y":0.883},{"c":24,"x":0.517,"y":0.977},{"c":24,"x":0.564,"y":1.087},{"c":24,"x":0.611,"y":1.218},{"c":24,"x":0.658,"y":1.379},{"c":24,"x":0.705,"y":1.582},{"c":24,"x":0.752,"y":1.853},{"c":24,"x":0.799,"y":2.242},{"c":24,"x":0.846,"y":2.878},{"c":24,"x":0.865,"y":3.279},
{"c":25,"x":0.47,"y":-0.883},{"c":25,"x":0.517,"y":-0.977},{"c":25,"x":0.564,"y":-1.087},{"c":25,"x":0.611,"y":-1.218},{"c":25,"x":0.658,"y":-1.379},{"c":25,"x":0.705,"y":-1.582},{"c":25,"x":0.752,"y":-1.853},{"c":25,"x":0.799,"y":-2.242},{"c":25,"x":0.846,"y":-2.878},{"c":25,"x":0.865,"y":-3.279},
{"c":26,"x":-0.47,"y":0.883},{"c":26,"x":-0.517,"y":0.977},{"c":26,"x":-0.564,"y":1.087},{"c":26,"x":-0.611,"y":1.218},{"c":26,"x":-0.658,"y":1.379},{"c":26,"x":-0.705,"y":1.582},{"c":26,"x":-0.752,"y":1.853},{"c":26,"x":-0.799,"y":2.242},{"c":26,"x":-0.846,"y":2.878},{"c":26,"x":-0.865,"y":3.279},
{"c":27,"x":-0.47,"y":-0.883},{"c":27,"x":-0.517,"y":-0.977},{"c":27,"x":-0.564,"y":-1.087},{"c":27,"x":-0.611,"y":-1.218},{"c":27,"x":-0.658,"y":-1.379},{"c":27,"x":-0.705,"y":-1.582},{"c":27,"x":-0.752,"y":-1.853},{"c":27,"x":-0.799,"y":-2.242},{"c":27,"x":-0.846,"y":-2.878},{"c":27,"x":-0.865,"y":-3.279},
{"c":28,"x":0.556,"y":0.832},{"c":28,"x":0.611,"y":0.921},{"c":28,"x":0.667,"y":1.027},{"c":28,"x":0.722,"y":1.156},{"c":28,"x":0.778,"y":1.315},{"c":28,"x":0.833,"y":1.518},{"c":28,"x":0.889,"y":1.792},{"c":28,"x":0.944,"y":2.185},{"c":28,"x":1,"y":2.828},{"c":28,"x":1.022,"y":3.233},
{"c":29,"x":0.556,"y":-0.832},{"c":29,"x":0.611,"y":-0.921},{"c":29,"x":0.667,"y":-1.027},{"c":29,"x":0.722,"y":-1.156},{"c":29,"x":0.778,"y":-1.315},{"c":29,"x":0.833,"y":-1.518},{"c":29,"x":0.889,"y":-1.792},{"c":29,"x":0.944,"y":-2.185},{"c":29,"x":1,"y":-2.828},{"c":29,"x":1.022,"y":-3.233},
{"c":30,"x":-0.556,"y":0.832},{"c":30,"x":-0.611,"y":0.921},{"c":30,"x":-0.667,"y":1.027},{"c":30,"x":-0.722,"y":1.156},{"c":30,"x":-0.778,"y":1.315},{"c":30,"x":-0.833,"y":1.518},{"c":30,"x":-0.889,"y":1.792},{"c":30,"x":-0.944,"y":2.185},{"c":30,"x":-1,"y":2.828},{"c":30,"x":-1.022,"y":3.233},
{"c":31,"x":-0.556,"y":-0.832},{"c":31,"x":-0.611,"y":-0.921},{"c":31,"x":-0.667,"y":-1.027},{"c":31,"x":-0.722,"y":-1.156},{"c":31,"x":-0.778,"y":-1.315},{"c":31,"x":-0.833,"y":-1.518},{"c":31,"x":-0.889,"y":-1.792},{"c":31,"x":-0.944,"y":-2.185},{"c":31,"x":-1,"y":-2.828},{"c":31,"x":-1.022,"y":-3.233},
{"c":32,"x":0.641,"y":0.768},{"c":32,"x":0.705,"y":0.852},{"c":32,"x":0.769,"y":0.953},{"c":32,"x":0.833,"y":1.078},{"c":32,"x":0.897,"y":1.236},{"c":32,"x":0.962,"y":1.441},{"c":32,"x":1.026,"y":1.717},{"c":32,"x":1.09,"y":2.116},{"c":32,"x":1.154,"y":2.769},{"c":32,"x":1.18,"y":3.18},
{"c":33,"x":0.641,"y":-0.768},{"c":33,"x":0.705,"y":-0.852},{"c":33,"x":0.769,"y":-0.953},{"c":33,"x":0.833,"y":-1.078},{"c":33,"x":0.897,"y":-1.236},{"c":33,"x":0.962,"y":-1.441},{"c":33,"x":1.026,"y":-1.717},{"c":33,"x":1.09,"y":-2.116},{"c":33,"x":1.154,"y":-2.769},{"c":33,"x":1.18,"y":-3.18},
{"c":34,"x":-0.641,"y":0.768},{"c":34,"x":-0.705,"y":0.852},{"c":34,"x":-0.769,"y":0.953},{"c":34,"x":-0.833,"y":1.078},{"c":34,"x":-0.897,"y":1.236},{"c":34,"x":-0.962,"y":1.441},{"c":34,"x":-1.026,"y":1.717},{"c":34,"x":-1.09,"y":2.116},{"c":34,"x":-1.154,"y":2.769},{"c":34,"x":-1.18,"y":3.18},
{"c":35,"x":-0.641,"y":-0.768},{"c":35,"x":-0.705,"y":-0.852},{"c":35,"x":-0.769,"y":-0.953},{"c":35,"x":-0.833,"y":-1.078},{"c":35,"x":-0.897,"y":-1.236},{"c":35,"x":-0.962,"y":-1.441},{"c":35,"x":-1.026,"y":-1.717},{"c":35,"x":-1.09,"y":-2.116},{"c":35,"x":-1.154,"y":-2.769},{"c":35,"x":-1.18,"y":-3.18},
{"c":36,"x":0.727,"y":0.687},{"c":36,"x":0.799,"y":0.764},{"c":36,"x":0.872,"y":0.86},{"c":36,"x":0.944,"y":0.982},{"c":36,"x":1.017,"y":1.14},{"c":36,"x":1.09,"y":1.346},{"c":36,"x":1.162,"y":1.628},{"c":36,"x":1.235,"y":2.035},{"c":36,"x":1.308,"y":2.7},{"c":36,"x":1.337,"y":3.117},
{"c":37,"x":0.727,"y":-0.687},{"c":37,"x":0.799,"y":-0.764},{"c":37,"x":0.872,"y":-0.86},{"c":37,"x":0.944,"y":-0.982},{"c":37,"x":1.017,"y":-1.14},{"c":37,"x":1.09,"y":-1.346},{"c":37,"x":1.162,"y":-1.628},{"c":37,"x":1.235,"y":-2.035},{"c":37,"x":1.308,"y":-2.7},{"c":37,"x":1.337,"y":-3.117},
{"c":38,"x":-0.727,"y":0.687},{"c":38,"x":-0.799,"y":0.764},{"c":38,"x":-0.872,"y":0.86},{"c":38,"x":-0.944,"y":0.982},{"c":38,"x":-1.017,"y":1.14},{"c":38,"x":-1.09,"y":1.346},{"c":38,"x":-1.162,"y":1.628},{"c":38,"x":-1.235,"y":2.035},{"c":38,"x":-1.308,"y":2.7},{"c":38,"x":-1.337,"y":3.117},
{"c":39,"x":-0.727,"y":-0.687},{"c":39,"x":-0.799,"y":-0.764},{"c":39,"x":-0.872,"y":-0.86},{"c":39,"x":-0.944,"y":-0.982},{"c":39,"x":-1.017,"y":-1.14},{"c":39,"x":-1.09,"y":-1.346},{"c":39,"x":-1.162,"y":-1.628},{"c":39,"x":-1.235,"y":-2.035},{"c":39,"x":-1.308,"y":-2.7},{"c":39,"x":-1.337,"y":-3.117},
{"c":40,"x":0.812,"y":0.584},{"c":40,"x":0.893,"y":0.652},{"c":40,"x":0.974,"y":0.742},{"c":40,"x":1.056,"y":0.862},{"c":40,"x":1.137,"y":1.02},{"c":40,"x":1.218,"y":1.232},{"c":40,"x":1.299,"y":1.521},{"c":40,"x":1.38,"y":1.939},{"c":40,"x":1.462,"y":2.62},{"c":40,"x":1.494,"y":3.044},
{"c":41,"x":0.812,"y":-0.584},{"c":41,"x":0.893,"y":-0.652},{"c":41,"x":0.974,"y":-0.742},{"c":41,"x":1.056,"y":-0.862},{"c":41,"x":1.137,"y":-1.02},{"c":41,"x":1.218,"y":-1.232},{"c":41,"x":1.299,"y":-1.521},{"c":41,"x":1.38,"y":-1.939},{"c":41,"x":1.462,"y":-2.62},{"c":41,"x":1.494,"y":-3.044},
{"c":42,"x":-0.812,"y":0.584},{"c":42,"x":-0.893,"y":0.652},{"c":42,"x":-0.974,"y":0.742},{"c":42,"x":-1.056,"y":0.862},{"c":42,"x":-1.137,"y":1.02},{"c":42,"x":-1.218,"y":1.232},{"c":42,"x":-1.299,"y":1.521},{"c":42,"x":-1.38,"y":1.939},{"c":42,"x":-1.462,"y":2.62},{"c":42,"x":-1.494,"y":3.044},
{"c":43,"x":-0.812,"y":-0.584},{"c":43,"x":-0.893,"y":-0.652},{"c":43,"x":-0.974,"y":-0.742},{"c":43,"x":-1.056,"y":-0.862},{"c":43,"x":-1.137,"y":-1.02},{"c":43,"x":-1.218,"y":-1.232},{"c":43,"x":-1.299,"y":-1.521},{"c":43,"x":-1.38,"y":-1.939},{"c":43,"x":-1.462,"y":-2.62},{"c":43,"x":-1.494,"y":-3.044},
{"c":44,"x":0.897,"y":0.441},{"c":44,"x":0.987,"y":0.498},{"c":44,"x":1.077,"y":0.583},{"c":44,"x":1.167,"y":0.704},{"c":44,"x":1.256,"y":0.869},{"c":44,"x":1.346,"y":1.09},{"c":44,"x":1.436,"y":1.392},{"c":44,"x":1.526,"y":1.827},{"c":44,"x":1.615,"y":2.528},{"c":44,"x":1.651,"y":2.962},{"c":44,"x":1.669,"y":3.24},
{"c":45,"x":0.897,"y":-0.441},{"c":45,"x":0.987,"y":-0.498},{"c":45,"x":1.077,"y":-0.583},{"c":45,"x":1.167,"y":-0.704},{"c":45,"x":1.256,"y":-0.869},{"c":45,"x":1.346,"y":-1.09},{"c":45,"x":1.436,"y":-1.392},{"c":45,"x":1.526,"y":-1.827},{"c":45,"x":1.615,"y":-2.528},{"c":45,"x":1.651,"y":-2.962},{"c":45,"x":1.669,"y":-3.24},
{"c":46,"x":-0.897,"y":0.441},{"c":46,"x":-0.987,"y":0.498},{"c":46,"x":-1.077,"y":0.583},{"c":46,"x":-1.167,"y":0.704},{"c":46,"x":-1.256,"y":0.869},{"c":46,"x":-1.346,"y":1.09},{"c":46,"x":-1.436,"y":1.392},{"c":46,"x":-1.526,"y":1.827},{"c":46,"x":-1.615,"y":2.528},{"c":46,"x":-1.651,"y":2.962},{"c":46,"x":-1.669,"y":3.24},
{"c":47,"x":-0.897,"y":-0.441},{"c":47,"x":-0.987,"y":-0.498},{"c":47,"x":-1.077,"y":-0.583},{"c":47,"x":-1.167,"y":-0.704},{"c":47,"x":-1.256,"y":-0.869},{"c":47,"x":-1.346,"y":-1.09},{"c":47,"x":-1.436,"y":-1.392},{"c":47,"x":-1.526,"y":-1.827},{"c":47,"x":-1.615,"y":-2.528},{"c":47,"x":-1.651,"y":-2.962},{"c":47,"x":-1.669,"y":-3.24},
{"c":48,"x":0.983,"y":0.184},{"c":48,"x":1.022,"y":0.196},{"c":48,"x":1.081,"y":0.231},{"c":48,"x":1.18,"y":0.33},{"c":48,"x":1.278,"y":0.474},{"c":48,"x":1.376,"y":0.663},{"c":48,"x":1.474,"y":0.909},{"c":48,"x":1.573,"y":1.236},{"c":48,"x":1.671,"y":1.696},{"c":48,"x":1.769,"y":2.423},{"c":48,"x":1.809,"y":2.869},{"c":48,"x":1.828,"y":3.153},
{"c":49,"x":0.983,"y":-0.184},{"c":49,"x":1.022,"y":-0.196},{"c":49,"x":1.081,"y":-0.231},{"c":49,"x":1.18,"y":-0.33},{"c":49,"x":1.278,"y":-0.474},{"c":49,"x":1.376,"y":-0.663},{"c":49,"x":1.474,"y":-0.909},{"c":49,"x":1.573,"y":-1.236},{"c":49,"x":1.671,"y":-1.696},{"c":49,"x":1.769,"y":-2.423},{"c":49,"x":1.809,"y":-2.869},{"c":49,"x":1.828,"y":-3.153},
{"c":50,"x":-0.983,"y":0.184},{"c":50,"x":-1.022,"y":0.196},{"c":50,"x":-1.081,"y":0.231},{"c":50,"x":-1.18,"y":0.33},{"c":50,"x":-1.278,"y":0.474},{"c":50,"x":-1.376,"y":0.663},{"c":50,"x":-1.474,"y":0.909},{"c":50,"x":-1.573,"y":1.236},{"c":50,"x":-1.671,"y":1.696},{"c":50,"x":-1.769,"y":2.423},{"c":50,"x":-1.809,"y":2.869},{"c":50,"x":-1.828,"y":3.153},
{"c":51,"x":-0.983,"y":-0.184},{"c":51,"x":-1.022,"y":-0.196},{"c":51,"x":-1.081,"y":-0.231},{"c":51,"x":-1.18,"y":-0.33},{"c":51,"x":-1.278,"y":-0.474},{"c":51,"x":-1.376,"y":-0.663},{"c":51,"x":-1.474,"y":-0.909},{"c":51,"x":-1.573,"y":-1.236},{"c":51,"x":-1.671,"y":-1.696},{"c":51,"x":-1.769,"y":-2.423},{"c":51,"x":-1.809,"y":-2.869},{"c":51,"x":-1.828,"y":-3.153},
{"c":52,"x":1.444,"y":0},{"c":52,"x":1.453,"y":0.118},{"c":52,"x":1.474,"y":0.228},{"c":52,"x":1.517,"y":0.383},{"c":52,"x":1.603,"y":0.657},{"c":52,"x":1.709,"y":1.038},{"c":52,"x":1.816,"y":1.539},{"c":52,"x":1.923,"y":2.303},{"c":52,"x":1.966,"y":2.763},{"c":52,"x":1.987,"y":3.056},
{"c":53,"x":1.444,"y":0},{"c":53,"x":1.453,"y":-0.118},{"c":53,"x":1.474,"y":-0.228},{"c":53,"x":1.517,"y":-0.383},{"c":53,"x":1.603,"y":-0.657},{"c":53,"x":1.709,"y":-1.038},{"c":53,"x":1.816,"y":-1.539},{"c":53,"x":1.923,"y":-2.303},{"c":53,"x":1.966,"y":-2.763},{"c":53,"x":1.987,"y":-3.056},
{"c":54,"x":-1.444,"y":0},{"c":54,"x":-1.453,"y":0.118},{"c":54,"x":-1.474,"y":0.228},{"c":54,"x":-1.517,"y":0.383},{"c":54,"x":-1.603,"y":0.657},{"c":54,"x":-1.709,"y":1.038},{"c":54,"x":-1.816,"y":1.539},{"c":54,"x":-1.923,"y":2.303},{"c":54,"x":-1.966,"y":2.763},{"c":54,"x":-1.987,"y":3.056},
{"c":55,"x":-1.444,"y":0},{"c":55,"x":-1.453,"y":-0.118},{"c":55,"x":-1.474,"y":-0.228},{"c":55,"x":-1.517,"y":-0.383},{"c":55,"x":-1.603,"y":-0.657},{"c":55,"x":-1.709,"y":-1.038},{"c":55,"x":-1.816,"y":-1.539},{"c":55,"x":-1.923,"y":-2.303},{"c":55,"x":-1.966,"y":-2.763},{"c":55,"x":-1.987,"y":-3.056},
{"c":56,"x":1.729,"y":0},{"c":56,"x":1.735,"y":0.144},{"c":56,"x":1.754,"y":0.301},{"c":56,"x":1.8,"y":0.553},{"c":56,"x":1.846,"y":0.769},{"c":56,"x":1.915,"y":1.102},{"c":56,"x":1.985,"y":1.485},{"c":56,"x":2.077,"y":2.165},{"c":56,"x":2.123,"y":2.644},{"c":56,"x":2.158,"y":3.119},
{"c":57,"x":1.729,"y":0},{"c":57,"x":1.735,"y":-0.144},{"c":57,"x":1.754,"y":-0.301},{"c":57,"x":1.8,"y":-0.553},{"c":57,"x":1.846,"y":-0.769},{"c":57,"x":1.915,"y":-1.102},{"c":57,"x":1.985,"y":-1.485},{"c":57,"x":2.077,"y":-2.165},{"c":57,"x":2.123,"y":-2.644},{"c":57,"x":2.158,"y":-3.119},
{"c":58,"x":-1.729,"y":0},{"c":58,"x":-1.735,"y":0.144},{"c":58,"x":-1.754,"y":0.301},{"c":58,"x":-1.8,"y":0.553},{"c":58,"x":-1.846,"y":0.769},{"c":58,"x":-1.915,"y":1.102},{"c":58,"x":-1.985,"y":1.485},{"c":58,"x":-2.077,"y":2.165},{"c":58,"x":-2.123,"y":2.644},{"c":58,"x":-2.158,"y":3.119},
{"c":59,"x":-1.729,"y":0},{"c":59,"x":-1.735,"y":-0.144},{"c":59,"x":-1.754,"y":-0.301},{"c":59,"x":-1.8,"y":-0.553},{"c":59,"x":-1.846,"y":-0.769},{"c":59,"x":-1.915,"y":-1.102},{"c":59,"x":-1.985,"y":-1.485},{"c":59,"x":-2.077,"y":-2.165},{"c":59,"x":-2.123,"y":-2.644},{"c":59,"x":-2.158,"y":-3.119},
{"c":60,"x":1.971,"y":0},{"c":60,"x":1.978,"y":0.195},{"c":60,"x":1.995,"y":0.383},{"c":60,"x":2.033,"y":0.652},{"c":60,"x":2.082,"y":0.957},{"c":60,"x":2.156,"y":1.429},{"c":60,"x":2.231,"y":2.006},{"c":60,"x":2.28,"y":2.51},{"c":60,"x":2.318,"y":3.002},{"c":60,"x":2.33,"y":3.2},
{"c":61,"x":1.971,"y":0},{"c":61,"x":1.978,"y":-0.195},{"c":61,"x":1.995,"y":-0.383},{"c":61,"x":2.033,"y":-0.652},{"c":61,"x":2.082,"y":-0.957},{"c":61,"x":2.156,"y":-1.429},{"c":61,"x":2.231,"y":-2.006},{"c":61,"x":2.28,"y":-2.51},{"c":61,"x":2.318,"y":-3.002},{"c":61,"x":2.33,"y":-3.2},
{"c":62,"x":-1.971,"y":0},{"c":62,"x":-1.978,"y":0.195},{"c":62,"x":-1.995,"y":0.383},{"c":62,"x":-2.033,"y":0.652},{"c":62,"x":-2.082,"y":0.957},{"c":62,"x":-2.156,"y":1.429},{"c":62,"x":-2.231,"y":2.006},{"c":62,"x":-2.28,"y":2.51},{"c":62,"x":-2.318,"y":3.002},{"c":62,"x":-2.33,"y":3.2},
{"c":63,"x":-1.971,"y":0},{"c":63,"x":-1.978,"y":-0.195},{"c":63,"x":-1.995,"y":-0.383},{"c":63,"x":-2.033,"y":-0.652},{"c":63,"x":-2.082,"y":-0.957},{"c":63,"x":-2.156,"y":-1.429},{"c":63,"x":-2.231,"y":-2.006},{"c":63,"x":-2.28,"y":-2.51},{"c":63,"x":-2.318,"y":-3.002},{"c":63,"x":-2.33,"y":-3.2},
{"c":64,"x":2.194,"y":0},{"c":64,"x":2.202,"y":0.263},{"c":64,"x":2.22,"y":0.493},{"c":64,"x":2.252,"y":0.771},{"c":64,"x":2.305,"y":1.174},{"c":64,"x":2.358,"y":1.591},{"c":64,"x":2.411,"y":2.073},{"c":64,"x":2.464,"y":2.686},{"c":64,"x":2.491,"y":3.076},
{"c":65,"x":2.194,"y":0},{"c":65,"x":2.202,"y":-0.263},{"c":65,"x":2.22,"y":-0.493},{"c":65,"x":2.252,"y":-0.771},{"c":65,"x":2.305,"y":-1.174},{"c":65,"x":2.358,"y":-1.591},{"c":65,"x":2.411,"y":-2.073},{"c":65,"x":2.464,"y":-2.686},{"c":65,"x":2.491,"y":-3.076},
{"c":66,"x":-2.194,"y":0},{"c":66,"x":-2.202,"y":0.263},{"c":66,"x":-2.22,"y":0.493},{"c":66,"x":-2.252,"y":0.771},{"c":66,"x":-2.305,"y":1.174},{"c":66,"x":-2.358,"y":1.591},{"c":66,"x":-2.411,"y":2.073},{"c":66,"x":-2.464,"y":2.686},{"c":66,"x":-2.491,"y":3.076},
{"c":67,"x":-2.194,"y":0},{"c":67,"x":-2.202,"y":-0.263},{"c":67,"x":-2.22,"y":-0.493},{"c":67,"x":-2.252,"y":-0.771},{"c":67,"x":-2.305,"y":-1.174},{"c":67,"x":-2.358,"y":-1.591},{"c":67,"x":-2.411,"y":-2.073},{"c":67,"x":-2.464,"y":-2.686},{"c":67,"x":-2.491,"y":-3.076},
{"c":68,"x":2.405,"y":0},{"c":68,"x":2.412,"y":0.285},{"c":68,"x":2.426,"y":0.509},{"c":68,"x":2.454,"y":0.819},{"c":68,"x":2.51,"y":1.338},{"c":68,"x":2.567,"y":1.877},{"c":68,"x":2.623,"y":2.531},{"c":68,"x":2.651,"y":2.939},{"c":68,"x":2.665,"y":3.175},
{"c":69,"x":2.405,"y":0},{"c":69,"x":2.412,"y":-0.285},{"c":69,"x":2.426,"y":-0.509},{"c":69,"x":2.454,"y":-0.819},{"c":69,"x":2.51,"y":-1.338},{"c":69,"x":2.567,"y":-1.877},{"c":69,"x":2.623,"y":-2.531},{"c":69,"x":2.651,"y":-2.939},{"c":69,"x":2.665,"y":-3.175},
{"c":70,"x":-2.405,"y":0},{"c":70,"x":-2.412,"y":0.285},{"c":70,"x":-2.426,"y":0.509},{"c":70,"x":-2.454,"y":0.819},{"c":70,"x":-2.51,"y":1.338},{"c":70,"x":-2.567,"y":1.877},{"c":70,"x":-2.623,"y":2.531},{"c":70,"x":-2.651,"y":2.939},{"c":70,"x":-2.665,"y":3.175},
{"c":71,"x":-2.405,"y":0},{"c":71,"x":-2.412,"y":-0.285},{"c":71,"x":-2.426,"y":-0.509},{"c":71,"x":-2.454,"y":-0.819},{"c":71,"x":-2.51,"y":-1.338},{"c":71,"x":-2.567,"y":-1.877},{"c":71,"x":-2.623,"y":-2.531},{"c":71,"x":-2.651,"y":-2.939},{"c":71,"x":-2.665,"y":-3.175},
{"c":72,"x":2.608,"y":0},{"c":72,"x":2.615,"y":0.317},{"c":72,"x":2.627,"y":0.546},{"c":72,"x":2.647,"y":0.829},{"c":72,"x":2.692,"y":1.323},{"c":72,"x":2.737,"y":1.809},{"c":72,"x":2.782,"y":2.355},{"c":72,"x":2.812,"y":2.786},{"c":72,"x":2.827,"y":3.032},
{"c":73,"x":2.608,"y":0},{"c":73,"x":2.615,"y":-0.317},{"c":73,"x":2.627,"y":-0.546},{"c":73,"x":2.647,"y":-0.829},{"c":73,"x":2.692,"y":-1.323},{"c":73,"x":2.737,"y":-1.809},{"c":73,"x":2.782,"y":-2.355},{"c":73,"x":2.812,"y":-2.786},{"c":73,"x":2.827,"y":-3.032},
{"c":74,"x":-2.608,"y":0},{"c":74,"x":-2.615,"y":0.317},{"c":74,"x":-2.627,"y":0.546},{"c":74,"x":-2.647,"y":0.829},{"c":74,"x":-2.692,"y":1.323},{"c":74,"x":-2.737,"y":1.809},{"c":74,"x":-2.782,"y":2.355},{"c":74,"x":-2.812,"y":2.786},{"c":74,"x":-2.827,"y":3.032},
{"c":75,"x":-2.608,"y":0},{"c":75,"x":-2.615,"y":-0.317},{"c":75,"x":-2.627,"y":-0.546},{"c":75,"x":-2.647,"y":-0.829},{"c":75,"x":-2.692,"y":-1.323},{"c":75,"x":-2.737,"y":-1.809},{"c":75,"x":-2.782,"y":-2.355},{"c":75,"x":-2.812,"y":-2.786},{"c":75,"x":-2.827,"y":-3.032},
{"c":76,"x":2.806,"y":0},{"c":76,"x":2.811,"y":0.324},{"c":76,"x":2.824,"y":0.609},{"c":76,"x":2.846,"y":0.948},{"c":76,"x":2.878,"y":1.353},{"c":76,"x":2.925,"y":1.943},{"c":76,"x":2.973,"y":2.613},{"c":76,"x":2.998,"y":3.04},
{"c":77,"x":2.806,"y":0},{"c":77,"x":2.811,"y":-0.324},{"c":77,"x":2.824,"y":-0.609},{"c":77,"x":2.846,"y":-0.948},{"c":77,"x":2.878,"y":-1.353},{"c":77,"x":2.925,"y":-1.943},{"c":77,"x":2.973,"y":-2.613},{"c":77,"x":2.998,"y":-3.04},
{"c":78,"x":-2.806,"y":0},{"c":78,"x":-2.811,"y":0.324},{"c":78,"x":-2.824,"y":0.609},{"c":78,"x":-2.846,"y":0.948},{"c":78,"x":-2.878,"y":1.353},{"c":78,"x":-2.925,"y":1.943},{"c":78,"x":-2.973,"y":2.613},{"c":78,"x":-2.998,"y":3.04},
{"c":79,"x":-2.806,"y":0},{"c":79,"x":-2.811,"y":-0.324},{"c":79,"x":-2.824,"y":-0.609},{"c":79,"x":-2.846,"y":-0.948},{"c":79,"x":-2.878,"y":-1.353},{"c":79,"x":-2.925,"y":-1.943},{"c":79,"x":-2.973,"y":-2.613},{"c":79,"x":-2.998,"y":-3.04}
],
"ar":[
{"x":-3,"y":2.7,"d":3.5,"s":1},{"x":-2.7,"y":2.7,"d":3.9,"s":1},{"x":-2.4,"y":2.7,"d":4.3,"s":1.01},{"x":-2.1,"y":2.7,"d":4.6,"s":1.02},{"x":-1.8,"y":2.7,"d":4.8,"s":1.04},{"x":-1.5,"y":2.7,"d":4.8,"s":1.06},{"x":-1.2,"y":2.7,"d":4.5,"s":1.08},{"x":-0.9,"y":2.7,"d":3.9,"s":1.1},{"x":-0.6,"y":2.7,"d":2.8,"s":1.12},{"x":-0.3,"y":2.7,"d":1.5,"s":1.13},{"x":0,"y":2.7,"d":0,"s":1.14},{"x":0.3,"y":2.7,"d":-1.5,"s":1.13},{"x":0.6,"y":2.7,"d":-2.8,"s":1.12},{"x":0.9,"y":2.7,"d":-3.9,"s":1.1},{"x":1.2,"y":2.7,"d":-4.5,"s":1.08},{"x":1.5,"y":2.7,"d":-4.8,"s":1.06},{"x":1.8,"y":2.7,"d":-4.8,"s":1.04},{"x":2.1,"y":2.7,"d":-4.6,"s":1.02},{"x":2.4,"y":2.7,"d":-4.3,"s":1.01},{"x":2.7,"y":2.7,"d":-3.9,"s":1},
{"x":-3,"y":2.4,"d":3.8,"s":0.99},{"x":-2.7,"y":2.4,"d":4.4,"s":0.99},{"x":-2.4,"y":2.4,"d":5,"s":1},{"x":-2.1,"y":2.4,"d":5.5,"s":1.02},{"x":-1.8,"y":2.4,"d":5.9,"s":1.04},{"x":-1.5,"y":2.4,"d":6.1,"s":1.06},{"x":-1.2,"y":2.4,"d":5.9,"s":1.09},{"x":-0.9,"y":2.4,"d":5.1,"s":1.12},{"x":-0.6,"y":2.4,"d":3.9,"s":1.15},{"x":-0.3,"y":2.4,"d":2.1,"s":1.17},{"x":0,"y":2.4,"d":0,"s":1.17},{"x":0.3,"y":2.4,"d":-2.1,"s":1.17},{"x":0.6,"y":2.4,"d":-3.9,"s":1.15},{"x":0.9,"y":2.4,"d":-5.1,"s":1.12},{"x":1.2,"y":2.4,"d":-5.9,"s":1.09},{"x":1.5,"y":2.4,"d":-6.1,"s":1.06},{"x":1.8,"y":2.4,"d":-5.9,"s":1.04},{"x":2.1,"y":2.4,"d":-5.5,"s":1.02},{"x":2.4,"y":2.4,"d":-5,"s":1},{"x":2.7,"y":2.4,"d":-4.4,"s":0.99},
{"x":-3,"y":2.1,"d":4.1,"s":0.98},{"x":-2.7,"y":2.1,"d":4.8,"s":0.98},{"x":-2.4,"y":2.1,"d":5.6,"s":0.99},{"x":-2.1,"y":2.1,"d":6.5,"s":1.01},{"x":-1.8,"y":2.1,"d":7.2,"s":1.03},{"x":-1.5,"y":2.1,"d":7.7,"s":1.06},{"x":-1.2,"y":2.1,"d":7.7,"s":1.1},{"x":-0.9,"y":2.1,"d":7,"s":1.14},{"x":-0.6,"y":2.1,"d":5.4,"s":1.18},{"x":-0.3,"y":2.1,"d":2.9,"s":1.22},{"x":0,"y":2.1,"d":0,"s":1.23},{"x":0.3,"y":2.1,"d":-2.9,"s":1.22},{"x":0.6,"y":2.1,"d":-5.4,"s":1.18},{"x":0.9,"y":2.1,"d":-7,"s":1.14},{"x":1.2,"y":2.1,"d":-7.7,"s":1.1},{"x":1.5,"y":2.1,"d":-7.7,"s":1.06},{"x":1.8,"y":2.1,"d":-7.2,"s":1.03},{"x":2.1,"y":2.1,"d":-6.5,"s":1.01},{"x":2.4,"y":2.1,"d":-5.6,"s":0.99},{"x":2.7,"y":2.1,"d":-4.8,"s":0.98},
{"x":-3,"y":1.8,"d":4.3,"s":0.96},{"x":-2.7,"y":1.8,"d":5.2,"s":0.97},{"x":-2.4,"y":1.8,"d":6.3,"s":0.98},{"x":-2.1,"y":1.8,"d":7.5,"s":0.99},{"x":-1.8,"y":1.8,"d":8.8,"s":1.01},{"x":-1.5,"y":1.8,"d":9.8,"s":1.05},{"x":-1.2,"y":1.8,"d":10.3,"s":1.1},{"x":-0.9,"y":1.8,"d":9.8,"s":1.17},{"x":-0.6,"y":1.8,"d":7.8,"s":1.23},{"x":-0.3,"y":1.8,"d":4.3,"s":1.29},{"x":0,"y":1.8,"d":0,"s":1.31},{"x":0.3,"y":1.8,"d":-4.3,"s":1.29},{"x":0.6,"y":1.8,"d":-7.8,"s":1.23},{"x":0.9,"y":1.8,"d":-9.8,"s":1.17},{"x":1.2,"y":1.8,"d":-10.3,"s":1.1},{"x":1.5,"y":1.8,"d":-9.8,"s":1.05},{"x":1.8,"y":1.8,"d":-8.8,"s":1.01},{"x":2.1,"y":1.8,"d":-7.5,"s":0.99},{"x":2.4,"y":1.8,"d":-6.3,"s":0.98},{"x":2.7,"y":1.8,"d":-5.2,"s":0.97},
{"x":-3,"y":1.5,"d":4.3,"s":0.95},{"x":-2.7,"y":1.5,"d":5.4,"s":0.95},{"x":-2.4,"y":1.5,"d":6.8,"s":0.95},{"x":-2.1,"y":1.5,"d":8.5,"s":0.96},{"x":-1.8,"y":1.5,"d":10.5,"s":0.98},{"x":-1.5,"y":1.5,"d":12.5,"s":1.02},{"x":-1.2,"y":1.5,"d":14,"s":1.09},{"x":-0.9,"y":1.5,"d":14,"s":1.19},{"x":-0.6,"y":1.5,"d":11.7,"s":1.31},{"x":-0.3,"y":1.5,"d":6.7,"s":1.4},{"x":0,"y":1.5,"d":0,"s":1.44},{"x":0.3,"y":1.5,"d":-6.7,"s":1.4},{"x":0.6,"y":1.5,"d":-11.7,"s":1.31},{"x":0.9,"y":1.5,"d":-14,"s":1.19},{"x":1.2,"y":1.5,"d":-14,"s":1.09},{"x":1.5,"y":1.5,"d":-12.5,"s":1.02},{"x":1.8,"y":1.5,"d":-10.5,"s":0.98},{"x":2.1,"y":1.5,"d":-8.5,"s":0.96},{"x":2.4,"y":1.5,"d":-6.8,"s":0.95},{"x":2.7,"y":1.5,"d":-5.4,"s":0.95},
{"x":-3,"y":1.2,"d":4.1,"s":0.93},{"x":-2.7,"y":1.2,"d":5.3,"s":0.93},{"x":-2.4,"y":1.2,"d":6.9,"s":0.92},{"x":-2.1,"y":1.2,"d":9.2,"s":0.93},{"x":-1.8,"y":1.2,"d":12.1,"s":0.94},{"x":-1.5,"y":1.2,"d":15.7,"s":0.98},{"x":-1.2,"y":1.2,"d":19.2,"s":1.06},{"x":-0.9,"y":1.2,"d":20.8,"s":1.2},{"x":-0.6,"y":1.2,"d":18.4,"s":1.41},{"x":-0.3,"y":1.2,"d":11,"s":1.61},{"x":0,"y":1.2,"d":0,"s":1.69},{"x":0.3,"y":1.2,"d":-11,"s":1.61},{"x":0.6,"y":1.2,"d":-18.4,"s":1.41},{"x":0.9,"y":1.2,"d":-20.8,"s":1.2},{"x":1.2,"y":1.2,"d":-19.2,"s":1.06},{"x":1.5,"y":1.2,"d":-15.7,"s":0.98},{"x":1.8,"y":1.2,"d":-12.1,"s":0.94},{"x":2.1,"y":1.2,"d":-9.2,"s":0.93},{"x":2.4,"y":1.2,"d":-6.9,"s":0.92},{"x":2.7,"y":1.2,"d":-5.3,"s":0.93},
{"x":-3,"y":0.9,"d":3.5,"s":0.92},{"x":-2.7,"y":0.9,"d":4.7,"s":0.9},{"x":-2.4,"y":0.9,"d":6.5,"s":0.89},{"x":-2.1,"y":0.9,"d":9.1,"s":0.88},{"x":-1.8,"y":0.9,"d":13.1,"s":0.87},{"x":-1.5,"y":0.9,"d":18.8,"s":0.89},{"x":-1.2,"y":0.9,"d":26,"s":0.97},{"x":-0.9,"y":0.9,"d":31.7,"s":1.18},{"x":-0.6,"y":0.9,"d":30.7,"s":1.55},{"x":0.6,"y":0.9,"d":-30.7,"s":1.55},{"x":0.9,"y":0.9,"d":-31.7,"s":1.18},{"x":1.2,"y":0.9,"d":-26,"s":0.97},{"x":1.5,"y":0.9,"d":-18.8,"s":0.89},{"x":1.8,"y":0.9,"d":-13.1,"s":0.87},{"x":2.1,"y":0.9,"d":-9.1,"s":0.88},{"x":2.4,"y":0.9,"d":-6.5,"s":0.89},{"x":2.7,"y":0.9,"d":-4.7,"s":0.9},
{"x":-3,"y":0.6,"d":2.6,"s":0.9},{"x":-2.7,"y":0.6,"d":3.6,"s":0.88},{"x":-2.4,"y":0.6,"d":5.1,"s":0.86},{"x":-2.1,"y":0.6,"d":7.7,"s":0.83},{"x":-1.8,"y":0.6,"d":12.1,"s":0.8},{"x":-1.5,"y":0.6,"d":20.1,"s":0.77},{"x":-1.2,"y":0.6,"d":33.7,"s":0.8},{"x":-0.9,"y":0.6,"d":49.6,"s":1.04},{"x":0.9,"y":0.6,"d":-49.6,"s":1.04},{"x":1.2,"y":0.6,"d":-33.7,"s":0.8},{"x":1.5,"y":0.6,"d":-20.1,"s":0.77},{"x":1.8,"y":0.6,"d":-12.1,"s":0.8},{"x":2.1,"y":0.6,"d":-7.7,"s":0.83},{"x":2.4,"y":0.6,"d":-5.1,"s":0.86},{"x":2.7,"y":0.6,"d":-3.6,"s":0.88},
{"x":-3,"y":0.3,"d":1.4,"s":0.89},{"x":-2.7,"y":0.3,"d":2,"s":0.87},{"x":-2.4,"y":0.3,"d":2.9,"s":0.84},{"x":-2.1,"y":0.3,"d":4.5,"s":0.79},{"x":-1.8,"y":0.3,"d":7.8,"s":0.72},{"x":-1.5,"y":0.3,"d":15.2,"s":0.63},{"x":-1.2,"y":0.3,"d":36,"s":0.52},{"x":1.2,"y":0.3,"d":-36,"s":0.52},{"x":1.5,"y":0.3,"d":-15.2,"s":0.63},{"x":1.8,"y":0.3,"d":-7.8,"s":0.72},{"x":2.1,"y":0.3,"d":-4.5,"s":0.79},{"x":2.4,"y":0.3,"d":-2.9,"s":0.84},{"x":2.7,"y":0.3,"d":-2,"s":0.87},
{"x":-3,"y":0,"d":0,"s":0.89},{"x":-2.7,"y":0,"d":0,"s":0.86},{"x":-2.4,"y":0,"d":0,"s":0.83},{"x":-2.1,"y":0,"d":0,"s":0.77},{"x":-1.8,"y":0,"d":0,"s":0.69},{"x":-1.5,"y":0,"d":0,"s":0.56},{"x":-1.2,"y":0,"d":0,"s":0.31},{"x":1.2,"y":0,"d":0,"s":0.31},{"x":1.5,"y":0,"d":0,"s":0.56},{"x":1.8,"y":0,"d":0,"s":0.69},{"x":2.1,"y":0,"d":0,"s":0.77},{"x":2.4,"y":0,"d":0,"s":0.83},{"x":2.7,"y":0,"d":0,"s":0.86},
{"x":-3,"y":-0.3,"d":-1.4,"s":0.89},{"x":-2.7,"y":-0.3,"d":-2,"s":0.87},{"x":-2.4,"y":-0.3,"d":-2.9,"s":0.84},{"x":-2.1,"y":-0.3,"d":-4.5,"s":0.79},{"x":-1.8,"y":-0.3,"d":-7.8,"s":0.72},{"x":-1.5,"y":-0.3,"d":-15.2,"s":0.63},{"x":-1.2,"y":-0.3,"d":-36,"s":0.52},{"x":1.2,"y":-0.3,"d":36,"s":0.52},{"x":1.5,"y":-0.3,"d":15.2,"s":0.63},{"x":1.8,"y":-0.3,"d":7.8,"s":0.72},{"x":2.1,"y":-0.3,"d":4.5,"s":0.79},{"x":2.4,"y":-0.3,"d":2.9,"s":0.84},{"x":2.7,"y":-0.3,"d":2,"s":0.87},
{"x":-3,"y":-0.6,"d":-2.6,"s":0.9},{"x":-2.7,"y":-0.6,"d":-3.6,"s":0.88},{"x":-2.4,"y":-0.6,"d":-5.1,"s":0.86},{"x":-2.1,"y":-0.6,"d":-7.7,"s":0.83},{"x":-1.8,"y":-0.6,"d":-12.1,"s":0.8},{"x":-1.5,"y":-0.6,"d":-20.1,"s":0.77},{"x":-1.2,"y":-0.6,"d":-33.7,"s":0.8},{"x":-0.9,"y":-0.6,"d":-49.6,"s":1.04},{"x":0.9,"y":-0.6,"d":49.6,"s":1.04},{"x":1.2,"y":-0.6,"d":33.7,"s":0.8},{"x":1.5,"y":-0.6,"d":20.1,"s":0.77},{"x":1.8,"y":-0.6,"d":12.1,"s":0.8},{"x":2.1,"y":-0.6,"d":7.7,"s":0.83},{"x":2.4,"y":-0.6,"d":5.1,"s":0.86},{"x":2.7,"y":-0.6,"d":3.6,"s":0.88},
{"x":-3,"y":-0.9,"d":-3.5,"s":0.92},{"x":-2.7,"y":-0.9,"d":-4.7,"s":0.9},{"x":-2.4,"y":-0.9,"d":-6.5,"s":0.89},{"x":-2.1,"y":-0.9,"d":-9.1,"s":0.88},{"x":-1.8,"y":-0.9,"d":-13.1,"s":0.87},{"x":-1.5,"y":-0.9,"d":-18.8,"s":0.89},{"x":-1.2,"y":-0.9,"d":-26,"s":0.97},{"x":-0.9,"y":-0.9,"d":-31.7,"s":1.18},{"x":-0.6,"y":-0.9,"d":-30.7,"s":1.55},{"x":0.6,"y":-0.9,"d":30.7,"s":1.55},{"x":0.9,"y":-0.9,"d":31.7,"s":1.18},{"x":1.2,"y":-0.9,"d":26,"s":0.97},{"x":1.5,"y":-0.9,"d":18.8,"s":0.89},{"x":1.8,"y":-0.9,"d":13.1,"s":0.87},{"x":2.1,"y":-0.9,"d":9.1,"s":0.88},{"x":2.4,"y":-0.9,"d":6.5,"s":0.89},{"x":2.7,"y":-0.9,"d":4.7,"s":0.9},
{"x":-3,"y":-1.2,"d":-4.1,"s":0.93},{"x":-2.7,"y":-1.2,"d":-5.3,"s":0.93},{"x":-2.4,"y":-1.2,"d":-6.9,"s":0.92},{"x":-2.1,"y":-1.2,"d":-9.2,"s":0.93},{"x":-1.8,"y":-1.2,"d":-12.1,"s":0.94},{"x":-1.5,"y":-1.2,"d":-15.7,"s":0.98},{"x":-1.2,"y":-1.2,"d":-19.2,"s":1.06},{"x":-0.9,"y":-1.2,"d":-20.8,"s":1.2},{"x":-0.6,"y":-1.2,"d":-18.4,"s":1.41},{"x":-0.3,"y":-1.2,"d":-11,"s":1.61},{"x":0,"y":-1.2,"d":0,"s":1.69},{"x":0.3,"y":-1.2,"d":11,"s":1.61},{"x":0.6,"y":-1.2,"d":18.4,"s":1.41},{"x":0.9,"y":-1.2,"d":20.8,"s":1.2},{"x":1.2,"y":-1.2,"d":19.2,"s":1.06},{"x":1.5,"y":-1.2,"d":15.7,"s":0.98},{"x":1.8,"y":-1.2,"d":12.1,"s":0.94},{"x":2.1,"y":-1.2,"d":9.2,"s":0.93},{"x":2.4,"y":-1.2,"d":6.9,"s":0.92},{"x":2.7,"y":-1.2,"d":5.3,"s":0.93},
{"x":-3,"y":-1.5,"d":-4.3,"s":0.95},{"x":-2.7,"y":-1.5,"d":-5.4,"s":0.95},{"x":-2.4,"y":-1.5,"d":-6.8,"s":0.95},{"x":-2.1,"y":-1.5,"d":-8.5,"s":0.96},{"x":-1.8,"y":-1.5,"d":-10.5,"s":0.98},{"x":-1.5,"y":-1.5,"d":-12.5,"s":1.02},{"x":-1.2,"y":-1.5,"d":-14,"s":1.09},{"x":-0.9,"y":-1.5,"d":-14,"s":1.19},{"x":-0.6,"y":-1.5,"d":-11.7,"s":1.31},{"x":-0.3,"y":-1.5,"d":-6.7,"s":1.4},{"x":0,"y":-1.5,"d":0,"s":1.44},{"x":0.3,"y":-1.5,"d":6.7,"s":1.4},{"x":0.6,"y":-1.5,"d":11.7,"s":1.31},{"x":0.9,"y":-1.5,"d":14,"s":1.19},{"x":1.2,"y":-1.5,"d":14,"s":1.09},{"x":1.5,"y":-1.5,"d":12.5,"s":1.02},{"x":1.8,"y":-1.5,"d":10.5,"s":0.98},{"x":2.1,"y":-1.5,"d":8.5,"s":0.96},{"x":2.4,"y":-1.5,"d":6.8,"s":0.95},{"x":2.7,"y":-1.5,"d":5.4,"s":0.95},
{"x":-3,"y":-1.8,"d":-4.3,"s":0.96},{"x":-2.7,"y":-1.8,"d":-5.2,"s":0.97},{"x":-2.4,"y":-1.8,"d":-6.3,"s":0.98},{"x":-2.1,"y":-1.8,"d":-7.5,"s":0.99},{"x":-1.8,"y":-1.8,"d":-8.8,"s":1.01},{"x":-1.5,"y":-1.8,"d":-9.8,"s":1.05},{"x":-1.2,"y":-1.8,"d":-10.3,"s":1.1},{"x":-0.9,"y":-1.8,"d":-9.8,"s":1.17},{"x":-0.6,"y":-1.8,"d":-7.8,"s":1.23},{"x":-0.3,"y":-1.8,"d":-4.3,"s":1.29},{"x":0,"y":-1.8,"d":0,"s":1.31},{"x":0.3,"y":-1.8,"d":4.3,"s":1.29},{"x":0.6,"y":-1.8,"d":7.8,"s":1.23},{"x":0.9,"y":-1.8,"d":9.8,"s":1.17},{"x":1.2,"y":-1.8,"d":10.3,"s":1.1},{"x":1.5,"y":-1.8,"d":9.8,"s":1.05},{"x":1.8,"y":-1.8,"d":8.8,"s":1.01},{"x":2.1,"y":-1.8,"d":7.5,"s":0.99},{"x":2.4,"y":-1.8,"d":6.3,"s":0.98},{"x":2.7,"y":-1.8,"d":5.2,"s":0.97},
{"x":-3,"y":-2.1,"d":-4.1,"s":0.98},{"x":-2.7,"y":-2.1,"d":-4.8,"s":0.98},{"x":-2.4,"y":-2.1,"d":-5.6,"s":0.99},{"x":-2.1,"y":-2.1,"d":-6.5,"s":1.01},{"x":-1.8,"y":-2.1,"d":-7.2,"s":1.03},{"x":-1.5,"y":-2.1,"d":-7.7,"s":1.06},{"x":-1.2,"y":-2.1,"d":-7.7,"s":1.1},{"x":-0.9,"y":-2.1,"d":-7,"s":1.14},{"x":-0.6,"y":-2.1,"d":-5.4,"s":1.18},{"x":-0.3,"y":-2.1,"d":-2.9,"s":1.22},{"x":0,"y":-2.1,"d":0,"s":1.23},{"x":0.3,"y":-2.1,"d":2.9,"s":1.22},{"x":0.6,"y":-2.1,"d":5.4,"s":1.18},{"x":0.9,"y":-2.1,"d":7,"s":1.14},{"x":1.2,"y":-2.1,"d":7.7,"s":1.1},{"x":1.5,"y":-2.1,"d":7.7,"s":1.06},{"x":1.8,"y":-2.1,"d":7.2,"s":1.03},{"x":2.1,"y":-2.1,"d":6.5,"s":1.01},{"x":2.4,"y":-2.1,"d":5.6,"s":0.99},{"x":2.7,"y":-2.1,"d":4.8,"s":0.98},
{"x":-3,"y":-2.4,"d":-3.8,"s":0.99},{"x":-2.7,"y":-2.4,"d":-4.4,"s":0.99},{"x":-2.4,"y":-2.4,"d":-5,"s":1},{"x":-2.1,"y":-2.4,"d":-5.5,"s":1.02},{"x":-1.8,"y":-2.4,"d":-5.9,"s":1.04},{"x":-1.5,"y":-2.4,"d":-6.1,"s":1.06},{"x":-1.2,"y":-2.4,"d":-5.9,"s":1.09},{"x":-0.9,"y":-2.4,"d":-5.1,"s":1.12},{"x":-0.6,"y":-2.4,"d":-3.9,"s":1.15},{"x":-0.3,"y":-2.4,"d":-2.1,"s":1.17},{"x":0,"y":-2.4,"d":0,"s":1.17},{"x":0.3,"y":-2.4,"d":2.1,"s":1.17},{"x":0.6,"y":-2.4,"d":3.9,"s":1.15},{"x":0.9,"y":-2.4,"d":5.1,"s":1.12},{"x":1.2,"y":-2.4,"d":5.9,"s":1.09},{"x":1.5,"y":-2.4,"d":6.1,"s":1.06},{"x":1.8,"y":-2.4,"d":5.9,"s":1.04},{"x":2.1,"y":-2.4,"d":5.5,"s":1.02},{"x":2.4,"y":-2.4,"d":5,"s":1},{"x":2.7,"y":-2.4,"d":4.4,"s":0.99},
{"x":-3,"y":-2.7,"d":-3.5,"s":1},{"x":-2.7,"y":-2.7,"d":-3.9,"s":1},{"x":-2.4,"y":-2.7,"d":-4.3,"s":1.01},{"x":-2.1,"y":-2.7,"d":-4.6,"s":1.02},{"x":-1.8,"y":-2.7,"d":-4.8,"s":1.04},{"x":-1.5,"y":-2.7,"d":-4.8,"s":1.06},{"x":-1.2,"y":-2.7,"d":-4.5,"s":1.08},{"x":-0.9,"y":-2.7,"d":-3.9,"s":1.1},{"x":-0.6,"y":-2.7,"d":-2.8,"s":1.12},{"x":-0.3,"y":-2.7,"d":-1.5,"s":1.13},{"x":0,"y":-2.7,"d":0,"s":1.14},{"x":0.3,"y":-2.7,"d":1.5,"s":1.13},{"x":0.6,"y":-2.7,"d":2.8,"s":1.12},{"x":0.9,"y":-2.7,"d":3.9,"s":1.1},{"x":1.2,"y":-2.7,"d":4.5,"s":1.08},{"x":1.5,"y":-2.7,"d":4.8,"s":1.06},{"x":1.8,"y":-2.7,"d":4.8,"s":1.04},{"x":2.1,"y":-2.7,"d":4.6,"s":1.02},{"x":2.4,"y":-2.7,"d":4.3,"s":1.01},{"x":2.7,"y":-2.7,"d":3.9,"s":1},
{"x":-3,"y":-3,"d":-3.2,"s":1},{"x":-2.7,"y":-3,"d":-3.5,"s":1.01},{"x":-2.4,"y":-3,"d":-3.7,"s":1.02},{"x":-2.1,"y":-3,"d":-3.9,"s":1.03},{"x":-1.8,"y":-3,"d":-4,"s":1.04},{"x":-1.5,"y":-3,"d":-3.9,"s":1.06},{"x":-1.2,"y":-3,"d":-3.5,"s":1.07},{"x":-0.9,"y":-3,"d":-3,"s":1.09},{"x":-0.6,"y":-3,"d":-2.1,"s":1.1},{"x":-0.3,"y":-3,"d":-1.1,"s":1.11},{"x":0,"y":-3,"d":0,"s":1.11},{"x":0.3,"y":-3,"d":1.1,"s":1.11},{"x":0.6,"y":-3,"d":2.1,"s":1.1},{"x":0.9,"y":-3,"d":3,"s":1.09},{"x":1.2,"y":-3,"d":3.5,"s":1.07},{"x":1.5,"y":-3,"d":3.9,"s":1.06},{"x":1.8,"y":-3,"d":4,"s":1.04},{"x":2.1,"y":-3,"d":3.9,"s":1.03},{"x":2.4,"y":-3,"d":3.7,"s":1.02},{"x":2.7,"y":-3,"d":3.5,"s":1.01}
]
},
"layer":[
{"data":{"name":"eq"},"mark":{"type":"line","clip":true,"stroke":"#808080","strokeWidth":1.1,"strokeDash":[4,2],"interpolate":"monotone"},"encoding":{"detail":{"field":"c","type":"nominal"},"order":{"field":"x","type":"quantitative"}}},
{"data":{"name":"sp"},"mark":{"type":"line","clip":true,"stroke":"#0000ff","strokeWidth":2.1,"interpolate":"monotone"},"encoding":{"detail":{"field":"c","type":"nominal"},"order":{"field":"x","type":"quantitative"}}},
{"data":{"name":"sn"},"mark":{"type":"line","clip":true,"stroke":"#0000ff","strokeWidth":2.1,"strokeDash":[8,3.3],"interpolate":"monotone"},"encoding":{"detail":{"field":"c","type":"nominal"},"order":{"field":"x","type":"quantitative"}}},
{"data":{"name":"ar"},"mark":{"type":"point","clip":true,"shape":"M0,-0.13L0.14,-0.13L0,-0.4L1,0L0,0.4L0.14,0.13L0,0.13Z","filled":true,"color":"black","opacity":1,"strokeWidth":0},"encoding":{"size":{"field":"s","type":"quantitative","scale":{"type":"pow","exponent":2,"domain":[0,2],"range":[0,2304]},"legend":null},"angle":{"field":"d","type":"quantitative","scale":{"domain":[-180,180],"range":[180,-180]},"legend":null}}},
{"data":{"name":"ci"},"mark":{"type":"line","stroke":"#ff0000","strokeWidth":3.6},"encoding":{"order":{"field":"o","type":"quantitative"}}}
]
}
